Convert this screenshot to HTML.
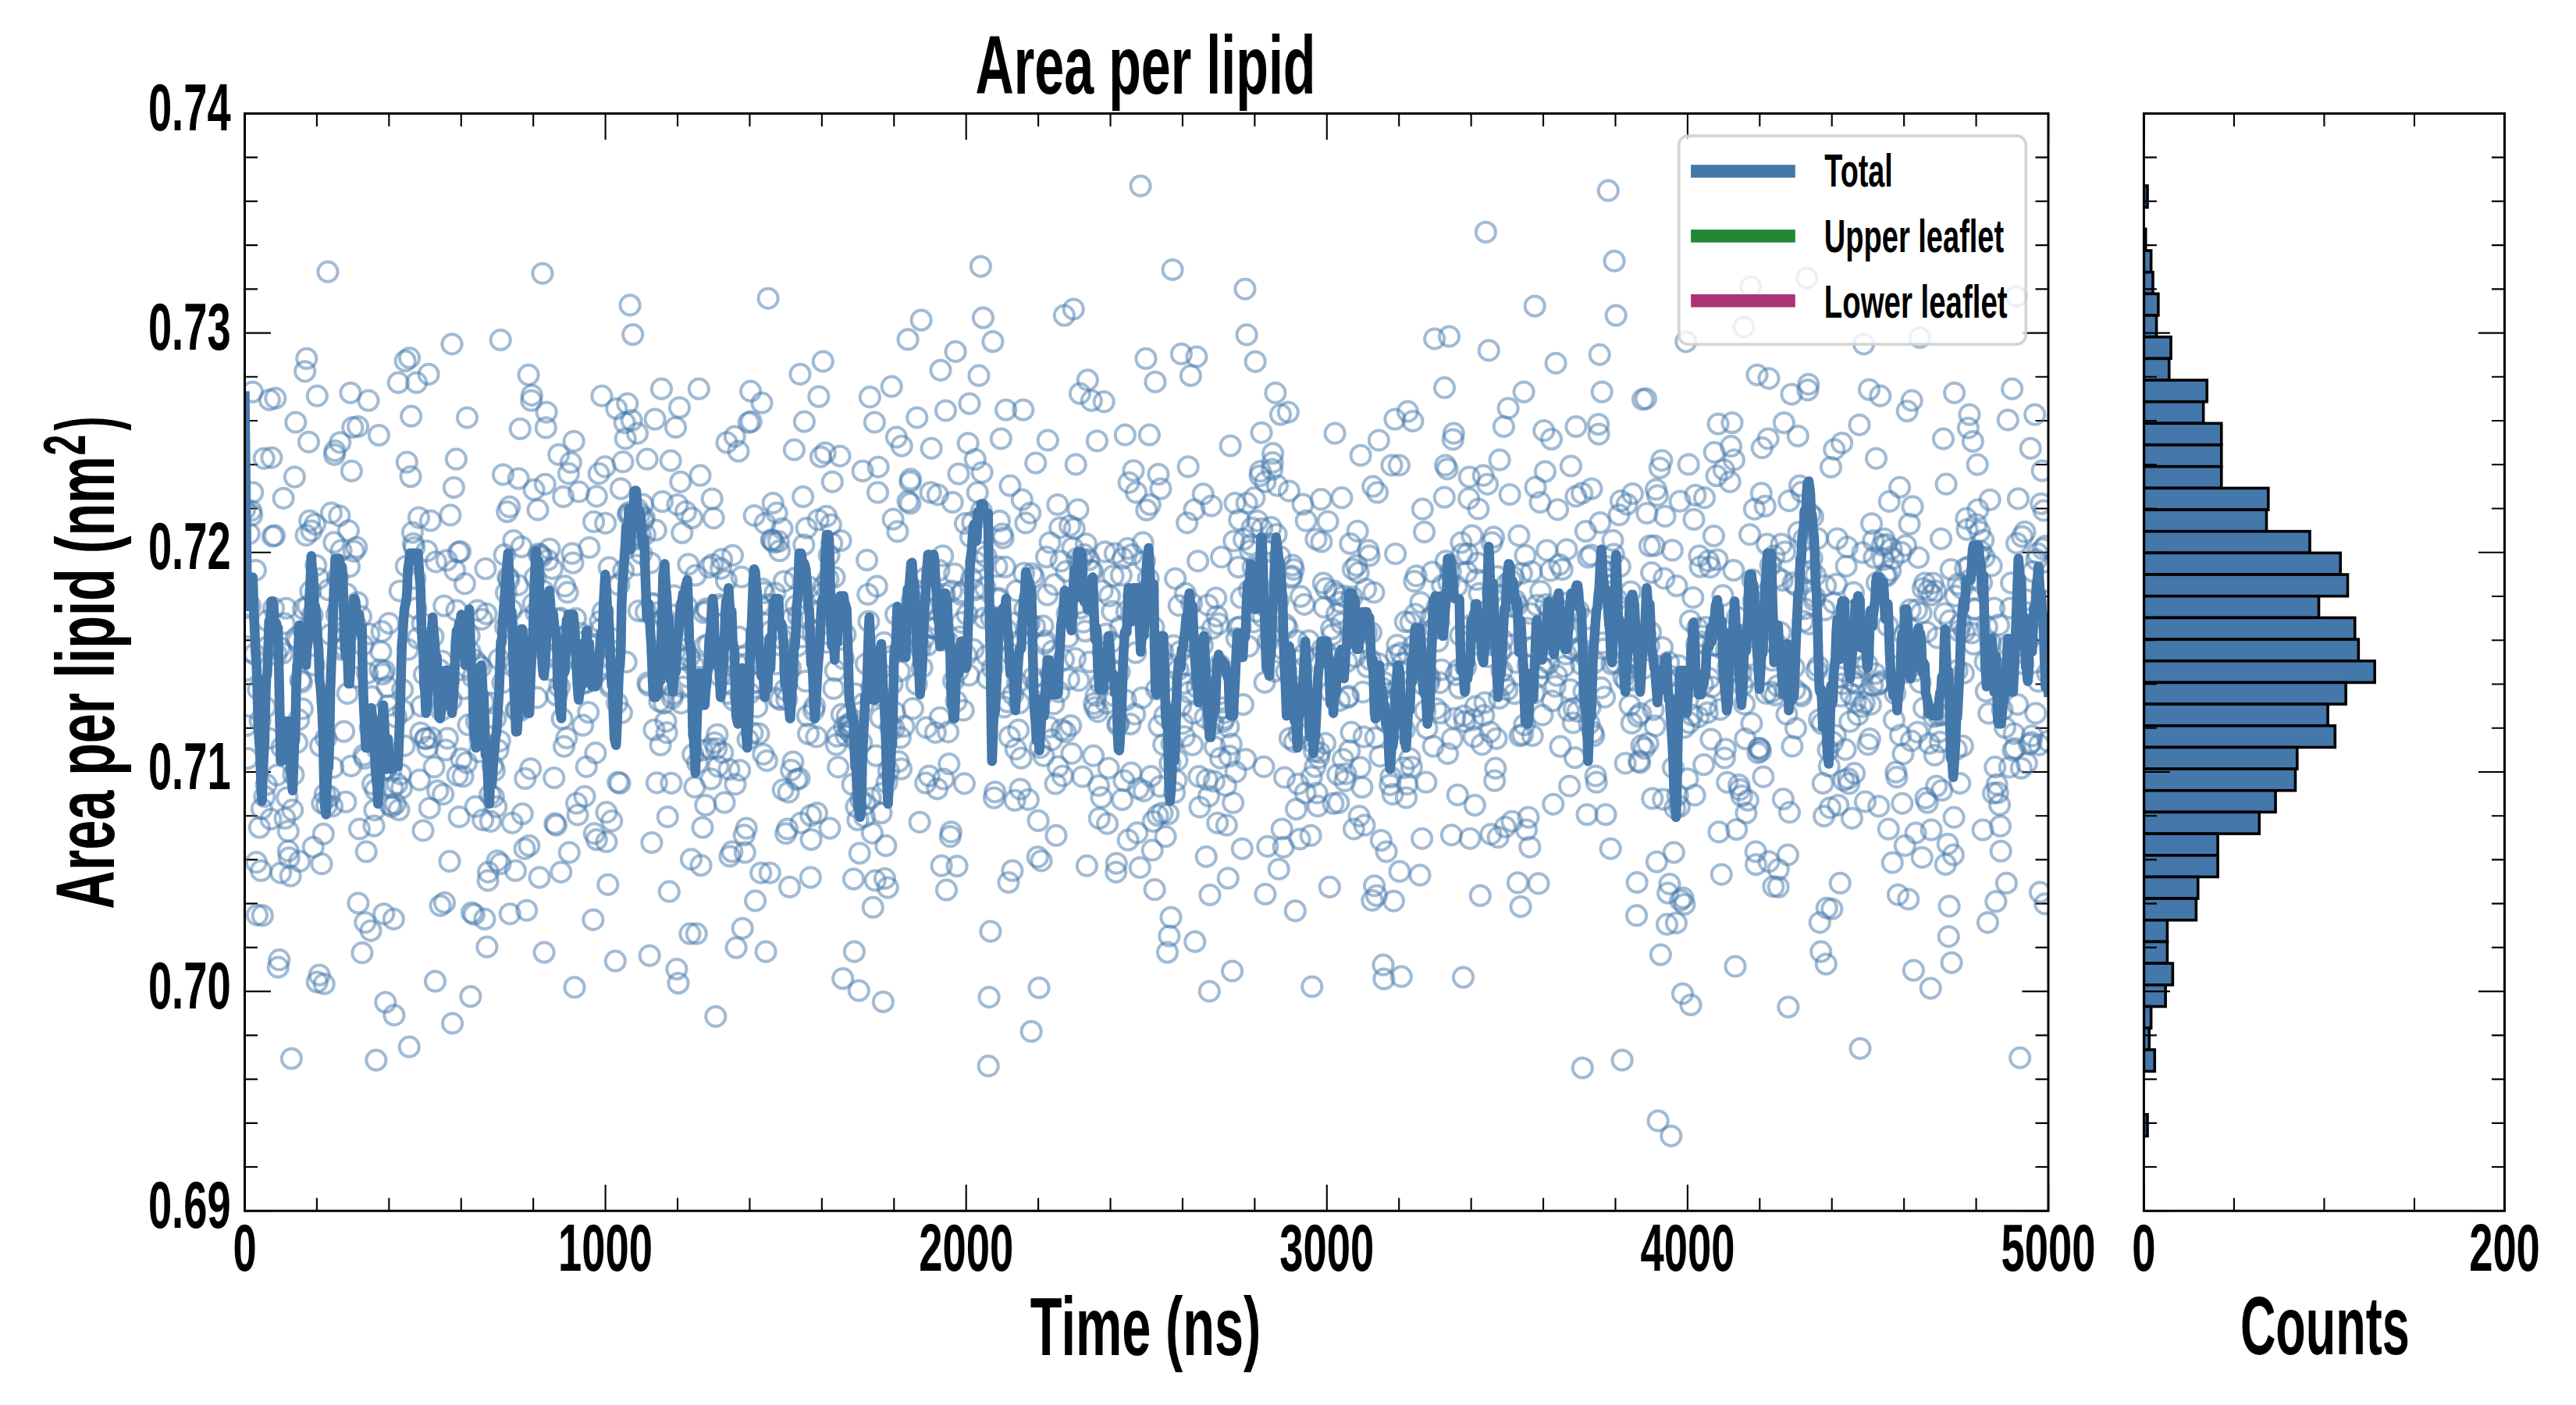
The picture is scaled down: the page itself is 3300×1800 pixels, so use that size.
<!DOCTYPE html><html><head><meta charset="utf-8"><title>Area per lipid</title><style>html,body{margin:0;padding:0;background:#fff;width:3300px;height:1800px;overflow:hidden}</style></head><body><svg width="3300" height="1800" viewBox="0 0 3300 1800" style="position:absolute;left:0;top:0"><rect width="3300" height="1800" fill="#fff"/><defs><clipPath id="ca"><rect x="313.5" y="145.4" width="2310.5" height="1405.8999999999999"/></clipPath><clipPath id="ch"><rect x="2746.4" y="145.4" width="462.0999999999999" height="1405.8999999999999"/></clipPath></defs><g clip-path="url(#ch)" fill="#4477AA" stroke="#000" stroke-width="3.6"><rect x="2746.4" y="238.00" width="4.62" height="27.67"/><rect x="2746.4" y="265.67" width="0.00" height="27.67"/><rect x="2746.4" y="293.34" width="2.31" height="27.67"/><rect x="2746.4" y="321.01" width="9.24" height="27.67"/><rect x="2746.4" y="348.68" width="11.55" height="27.67"/><rect x="2746.4" y="376.35" width="18.48" height="27.67"/><rect x="2746.4" y="404.02" width="16.17" height="27.67"/><rect x="2746.4" y="431.69" width="34.66" height="27.67"/><rect x="2746.4" y="459.36" width="32.35" height="27.67"/><rect x="2746.4" y="487.03" width="80.87" height="27.67"/><rect x="2746.4" y="514.70" width="76.25" height="27.67"/><rect x="2746.4" y="542.38" width="99.35" height="27.67"/><rect x="2746.4" y="570.05" width="99.35" height="27.67"/><rect x="2746.4" y="597.72" width="99.35" height="27.67"/><rect x="2746.4" y="625.39" width="159.42" height="27.67"/><rect x="2746.4" y="653.06" width="157.11" height="27.67"/><rect x="2746.4" y="680.73" width="212.57" height="27.67"/><rect x="2746.4" y="708.40" width="251.84" height="27.67"/><rect x="2746.4" y="736.07" width="261.09" height="27.67"/><rect x="2746.4" y="763.74" width="224.12" height="27.67"/><rect x="2746.4" y="791.41" width="270.33" height="27.67"/><rect x="2746.4" y="819.08" width="274.95" height="27.67"/><rect x="2746.4" y="846.75" width="295.74" height="27.67"/><rect x="2746.4" y="874.42" width="258.78" height="27.67"/><rect x="2746.4" y="902.09" width="235.67" height="27.67"/><rect x="2746.4" y="929.76" width="244.91" height="27.67"/><rect x="2746.4" y="957.43" width="196.39" height="27.67"/><rect x="2746.4" y="985.10" width="194.08" height="27.67"/><rect x="2746.4" y="1012.77" width="168.67" height="27.67"/><rect x="2746.4" y="1040.44" width="147.87" height="27.67"/><rect x="2746.4" y="1068.11" width="94.73" height="27.67"/><rect x="2746.4" y="1095.78" width="94.73" height="27.67"/><rect x="2746.4" y="1123.45" width="69.32" height="27.67"/><rect x="2746.4" y="1151.12" width="67.00" height="27.67"/><rect x="2746.4" y="1178.80" width="30.04" height="27.67"/><rect x="2746.4" y="1206.47" width="30.04" height="27.67"/><rect x="2746.4" y="1234.14" width="36.97" height="27.67"/><rect x="2746.4" y="1261.81" width="27.73" height="27.67"/><rect x="2746.4" y="1289.48" width="9.24" height="27.67"/><rect x="2746.4" y="1317.15" width="6.93" height="27.67"/><rect x="2746.4" y="1344.82" width="13.86" height="27.67"/><rect x="2746.4" y="1372.49" width="0.00" height="27.67"/><rect x="2746.4" y="1400.16" width="0.00" height="27.67"/><rect x="2746.4" y="1427.83" width="4.62" height="27.67"/></g><path d="M313.50,1551.3v-33.5M313.50,145.4v33.5M405.92,1551.3v-16.5M405.92,145.4v16.5M498.34,1551.3v-16.5M498.34,145.4v16.5M590.76,1551.3v-16.5M590.76,145.4v16.5M683.18,1551.3v-16.5M683.18,145.4v16.5M775.60,1551.3v-33.5M775.60,145.4v33.5M868.02,1551.3v-16.5M868.02,145.4v16.5M960.44,1551.3v-16.5M960.44,145.4v16.5M1052.86,1551.3v-16.5M1052.86,145.4v16.5M1145.28,1551.3v-16.5M1145.28,145.4v16.5M1237.70,1551.3v-33.5M1237.70,145.4v33.5M1330.12,1551.3v-16.5M1330.12,145.4v16.5M1422.54,1551.3v-16.5M1422.54,145.4v16.5M1514.96,1551.3v-16.5M1514.96,145.4v16.5M1607.38,1551.3v-16.5M1607.38,145.4v16.5M1699.80,1551.3v-33.5M1699.80,145.4v33.5M1792.22,1551.3v-16.5M1792.22,145.4v16.5M1884.64,1551.3v-16.5M1884.64,145.4v16.5M1977.06,1551.3v-16.5M1977.06,145.4v16.5M2069.48,1551.3v-16.5M2069.48,145.4v16.5M2161.90,1551.3v-33.5M2161.90,145.4v33.5M2254.32,1551.3v-16.5M2254.32,145.4v16.5M2346.74,1551.3v-16.5M2346.74,145.4v16.5M2439.16,1551.3v-16.5M2439.16,145.4v16.5M2531.58,1551.3v-16.5M2531.58,145.4v16.5M2624.00,1551.3v-33.5M2624.00,145.4v33.5M313.5,1551.30h33.5M2624.0,1551.30h-33.5M2746.4,1551.30h33.5M3208.5,1551.30h-33.5M313.5,1495.06h16.5M2624.0,1495.06h-16.5M2746.4,1495.06h16.5M3208.5,1495.06h-16.5M313.5,1438.83h16.5M2624.0,1438.83h-16.5M2746.4,1438.83h16.5M3208.5,1438.83h-16.5M313.5,1382.59h16.5M2624.0,1382.59h-16.5M2746.4,1382.59h16.5M3208.5,1382.59h-16.5M313.5,1326.36h16.5M2624.0,1326.36h-16.5M2746.4,1326.36h16.5M3208.5,1326.36h-16.5M313.5,1270.12h33.5M2624.0,1270.12h-33.5M2746.4,1270.12h33.5M3208.5,1270.12h-33.5M313.5,1213.88h16.5M2624.0,1213.88h-16.5M2746.4,1213.88h16.5M3208.5,1213.88h-16.5M313.5,1157.65h16.5M2624.0,1157.65h-16.5M2746.4,1157.65h16.5M3208.5,1157.65h-16.5M313.5,1101.41h16.5M2624.0,1101.41h-16.5M2746.4,1101.41h16.5M3208.5,1101.41h-16.5M313.5,1045.18h16.5M2624.0,1045.18h-16.5M2746.4,1045.18h16.5M3208.5,1045.18h-16.5M313.5,988.94h33.5M2624.0,988.94h-33.5M2746.4,988.94h33.5M3208.5,988.94h-33.5M313.5,932.70h16.5M2624.0,932.70h-16.5M2746.4,932.70h16.5M3208.5,932.70h-16.5M313.5,876.47h16.5M2624.0,876.47h-16.5M2746.4,876.47h16.5M3208.5,876.47h-16.5M313.5,820.23h16.5M2624.0,820.23h-16.5M2746.4,820.23h16.5M3208.5,820.23h-16.5M313.5,764.00h16.5M2624.0,764.00h-16.5M2746.4,764.00h16.5M3208.5,764.00h-16.5M313.5,707.76h33.5M2624.0,707.76h-33.5M2746.4,707.76h33.5M3208.5,707.76h-33.5M313.5,651.52h16.5M2624.0,651.52h-16.5M2746.4,651.52h16.5M3208.5,651.52h-16.5M313.5,595.29h16.5M2624.0,595.29h-16.5M2746.4,595.29h16.5M3208.5,595.29h-16.5M313.5,539.05h16.5M2624.0,539.05h-16.5M2746.4,539.05h16.5M3208.5,539.05h-16.5M313.5,482.82h16.5M2624.0,482.82h-16.5M2746.4,482.82h16.5M3208.5,482.82h-16.5M313.5,426.58h33.5M2624.0,426.58h-33.5M2746.4,426.58h33.5M3208.5,426.58h-33.5M313.5,370.34h16.5M2624.0,370.34h-16.5M2746.4,370.34h16.5M3208.5,370.34h-16.5M313.5,314.11h16.5M2624.0,314.11h-16.5M2746.4,314.11h16.5M3208.5,314.11h-16.5M313.5,257.87h16.5M2624.0,257.87h-16.5M2746.4,257.87h16.5M3208.5,257.87h-16.5M313.5,201.64h16.5M2624.0,201.64h-16.5M2746.4,201.64h16.5M3208.5,201.64h-16.5M313.5,145.40h33.5M2624.0,145.40h-33.5M2746.4,145.40h33.5M3208.5,145.40h-33.5M2746.40,1551.3v-33.5M2746.40,145.4v33.5M2861.93,1551.3v-16.5M2861.93,145.4v16.5M2977.45,1551.3v-16.5M2977.45,145.4v16.5M3092.97,1551.3v-16.5M3092.97,145.4v16.5M3208.50,1551.3v-33.5M3208.50,145.4v33.5" stroke="#000" stroke-width="2.1" fill="none"/><g clip-path="url(#ca)" fill="none" stroke="#4477AA" stroke-opacity="0.5" stroke-width="4"><circle cx="313.5" cy="652.9" r="12.6"/><circle cx="314.7" cy="858.9" r="12.6"/><circle cx="315.8" cy="929.5" r="12.6"/><circle cx="317.0" cy="971.6" r="12.6"/><circle cx="318.1" cy="803.7" r="12.6"/><circle cx="319.3" cy="683.8" r="12.6"/><circle cx="320.4" cy="775.7" r="12.6"/><circle cx="321.6" cy="654.3" r="12.6"/><circle cx="322.7" cy="660.1" r="12.6"/><circle cx="323.5" cy="502.1" r="12.6"/><circle cx="323.7" cy="630.9" r="12.6"/><circle cx="326.2" cy="838.1" r="12.6"/><circle cx="327.4" cy="730.5" r="12.6"/><circle cx="328.5" cy="1104.7" r="12.6"/><circle cx="329.4" cy="1172.3" r="12.6"/><circle cx="330.8" cy="883.2" r="12.6"/><circle cx="332.4" cy="1060.1" r="12.6"/><circle cx="333.1" cy="923.3" r="12.6"/><circle cx="334.4" cy="1115.4" r="12.6"/><circle cx="335.4" cy="1036.1" r="12.6"/><circle cx="336.3" cy="1172.9" r="12.6"/><circle cx="338.2" cy="587.3" r="12.6"/><circle cx="338.9" cy="1020.4" r="12.6"/><circle cx="340.1" cy="906.0" r="12.6"/><circle cx="341.2" cy="1005.2" r="12.6"/><circle cx="342.4" cy="795.2" r="12.6"/><circle cx="343.5" cy="828.0" r="12.6"/><circle cx="344.7" cy="946.0" r="12.6"/><circle cx="345.3" cy="512.3" r="12.6"/><circle cx="347.0" cy="1049.4" r="12.6"/><circle cx="347.9" cy="586.3" r="12.6"/><circle cx="349.3" cy="687.0" r="12.6"/><circle cx="350.5" cy="779.2" r="12.6"/><circle cx="351.6" cy="686.2" r="12.6"/><circle cx="352.8" cy="510.2" r="12.6"/><circle cx="353.9" cy="838.1" r="12.6"/><circle cx="355.1" cy="992.9" r="12.6"/><circle cx="356.3" cy="1239.2" r="12.6"/><circle cx="357.8" cy="1229.7" r="12.6"/><circle cx="358.6" cy="829.8" r="12.6"/><circle cx="359.6" cy="1118.3" r="12.6"/><circle cx="360.9" cy="957.4" r="12.6"/><circle cx="362.0" cy="837.0" r="12.6"/><circle cx="363.1" cy="638.3" r="12.6"/><circle cx="364.3" cy="798.9" r="12.6"/><circle cx="365.0" cy="1048.4" r="12.6"/><circle cx="366.6" cy="779.3" r="12.6"/><circle cx="367.8" cy="1021.9" r="12.6"/><circle cx="369.3" cy="1064.9" r="12.6"/><circle cx="369.3" cy="1090.2" r="12.6"/><circle cx="370.3" cy="1098.9" r="12.6"/><circle cx="372.2" cy="1122.2" r="12.6"/><circle cx="373.4" cy="1356.1" r="12.6"/><circle cx="374.7" cy="1037.7" r="12.6"/><circle cx="375.9" cy="992.4" r="12.6"/><circle cx="377.4" cy="611.1" r="12.6"/><circle cx="378.8" cy="541.0" r="12.6"/><circle cx="379.3" cy="817.0" r="12.6"/><circle cx="380.5" cy="951.3" r="12.6"/><circle cx="381.7" cy="821.1" r="12.6"/><circle cx="382.8" cy="922.0" r="12.6"/><circle cx="383.8" cy="1103.4" r="12.6"/><circle cx="385.1" cy="871.3" r="12.6"/><circle cx="386.3" cy="873.9" r="12.6"/><circle cx="387.4" cy="908.0" r="12.6"/><circle cx="388.6" cy="779.9" r="12.6"/><circle cx="389.7" cy="808.2" r="12.6"/><circle cx="390.7" cy="475.8" r="12.6"/><circle cx="392.1" cy="685.7" r="12.6"/><circle cx="392.8" cy="459.4" r="12.6"/><circle cx="394.4" cy="776.6" r="12.6"/><circle cx="395.5" cy="566.3" r="12.6"/><circle cx="396.7" cy="667.1" r="12.6"/><circle cx="397.8" cy="757.6" r="12.6"/><circle cx="399.0" cy="680.1" r="12.6"/><circle cx="400.1" cy="788.1" r="12.6"/><circle cx="401.3" cy="1085.3" r="12.6"/><circle cx="402.5" cy="851.9" r="12.6"/><circle cx="403.6" cy="671.6" r="12.6"/><circle cx="404.8" cy="724.3" r="12.6"/><circle cx="406.3" cy="507.2" r="12.6"/><circle cx="406.3" cy="1258.1" r="12.6"/><circle cx="408.2" cy="741.3" r="12.6"/><circle cx="409.2" cy="1249.1" r="12.6"/><circle cx="410.5" cy="955.6" r="12.6"/><circle cx="412.0" cy="1106.7" r="12.6"/><circle cx="412.9" cy="1029.0" r="12.6"/><circle cx="414.3" cy="1068.4" r="12.6"/><circle cx="415.2" cy="1260.5" r="12.6"/><circle cx="416.3" cy="1017.5" r="12.6"/><circle cx="417.5" cy="946.1" r="12.6"/><circle cx="418.6" cy="1031.6" r="12.6"/><circle cx="420.0" cy="348.2" r="12.6"/><circle cx="420.9" cy="755.7" r="12.6"/><circle cx="422.1" cy="1020.1" r="12.6"/><circle cx="423.2" cy="812.8" r="12.6"/><circle cx="424.4" cy="657.2" r="12.6"/><circle cx="425.6" cy="1033.0" r="12.6"/><circle cx="426.7" cy="983.3" r="12.6"/><circle cx="427.9" cy="694.9" r="12.6"/><circle cx="429.1" cy="577.6" r="12.6"/><circle cx="428.5" cy="582.4" r="12.6"/><circle cx="431.3" cy="787.5" r="12.6"/><circle cx="432.5" cy="740.2" r="12.6"/><circle cx="433.6" cy="780.2" r="12.6"/><circle cx="434.8" cy="660.8" r="12.6"/><circle cx="435.7" cy="566.9" r="12.6"/><circle cx="437.1" cy="705.2" r="12.6"/><circle cx="438.3" cy="832.1" r="12.6"/><circle cx="439.4" cy="819.2" r="12.6"/><circle cx="440.6" cy="937.1" r="12.6"/><circle cx="441.7" cy="829.4" r="12.6"/><circle cx="442.9" cy="1027.4" r="12.6"/><circle cx="444.0" cy="760.9" r="12.6"/><circle cx="445.2" cy="888.4" r="12.6"/><circle cx="446.4" cy="679.8" r="12.6"/><circle cx="447.5" cy="725.9" r="12.6"/><circle cx="449.0" cy="503.3" r="12.6"/><circle cx="449.8" cy="981.3" r="12.6"/><circle cx="450.4" cy="603.4" r="12.6"/><circle cx="451.8" cy="547.5" r="12.6"/><circle cx="453.3" cy="706.1" r="12.6"/><circle cx="454.4" cy="867.8" r="12.6"/><circle cx="455.6" cy="800.2" r="12.6"/><circle cx="456.8" cy="701.3" r="12.6"/><circle cx="457.9" cy="771.8" r="12.6"/><circle cx="458.9" cy="1157.0" r="12.6"/><circle cx="458.6" cy="546.5" r="12.6"/><circle cx="460.5" cy="1062.0" r="12.6"/><circle cx="462.5" cy="789.7" r="12.6"/><circle cx="463.9" cy="1220.7" r="12.6"/><circle cx="464.8" cy="826.5" r="12.6"/><circle cx="466.0" cy="967.3" r="12.6"/><circle cx="467.1" cy="971.4" r="12.6"/><circle cx="467.8" cy="1181.8" r="12.6"/><circle cx="469.2" cy="1091.1" r="12.6"/><circle cx="470.6" cy="862.5" r="12.6"/><circle cx="472.0" cy="513.2" r="12.6"/><circle cx="472.9" cy="812.2" r="12.6"/><circle cx="474.1" cy="932.5" r="12.6"/><circle cx="475.0" cy="1192.3" r="12.6"/><circle cx="476.4" cy="892.7" r="12.6"/><circle cx="477.5" cy="1004.4" r="12.6"/><circle cx="479.0" cy="1058.1" r="12.6"/><circle cx="479.9" cy="1037.8" r="12.6"/><circle cx="481.0" cy="1012.0" r="12.6"/><circle cx="481.9" cy="1358.2" r="12.6"/><circle cx="483.3" cy="959.8" r="12.6"/><circle cx="484.5" cy="954.1" r="12.6"/><circle cx="485.4" cy="557.6" r="12.6"/><circle cx="486.8" cy="857.9" r="12.6"/><circle cx="487.9" cy="834.8" r="12.6"/><circle cx="489.1" cy="808.9" r="12.6"/><circle cx="490.3" cy="863.6" r="12.6"/><circle cx="491.7" cy="1170.8" r="12.6"/><circle cx="492.6" cy="859.3" r="12.6"/><circle cx="493.8" cy="1284.1" r="12.6"/><circle cx="494.9" cy="985.0" r="12.6"/><circle cx="496.0" cy="879.8" r="12.6"/><circle cx="497.2" cy="904.0" r="12.6"/><circle cx="498.3" cy="798.5" r="12.6"/><circle cx="499.5" cy="1030.8" r="12.6"/><circle cx="500.7" cy="987.5" r="12.6"/><circle cx="501.8" cy="1033.5" r="12.6"/><circle cx="503.0" cy="1009.2" r="12.6"/><circle cx="504.3" cy="1177.4" r="12.6"/><circle cx="504.9" cy="1300.5" r="12.6"/><circle cx="506.4" cy="1029.8" r="12.6"/><circle cx="507.6" cy="918.8" r="12.6"/><circle cx="508.7" cy="1004.1" r="12.6"/><circle cx="510.3" cy="490.2" r="12.6"/><circle cx="511.0" cy="1037.6" r="12.6"/><circle cx="512.2" cy="757.1" r="12.6"/><circle cx="513.4" cy="991.8" r="12.6"/><circle cx="514.5" cy="1009.7" r="12.6"/><circle cx="515.7" cy="883.5" r="12.6"/><circle cx="516.8" cy="910.7" r="12.6"/><circle cx="518.0" cy="955.5" r="12.6"/><circle cx="519.2" cy="462.4" r="12.6"/><circle cx="520.3" cy="725.3" r="12.6"/><circle cx="521.3" cy="592.1" r="12.6"/><circle cx="522.6" cy="832.2" r="12.6"/><circle cx="524.3" cy="1341.2" r="12.6"/><circle cx="524.6" cy="458.5" r="12.6"/><circle cx="526.1" cy="610.6" r="12.6"/><circle cx="526.7" cy="533.2" r="12.6"/><circle cx="528.4" cy="682.1" r="12.6"/><circle cx="529.5" cy="696.6" r="12.6"/><circle cx="530.7" cy="701.6" r="12.6"/><circle cx="531.8" cy="741.2" r="12.6"/><circle cx="533.0" cy="779.2" r="12.6"/><circle cx="533.6" cy="490.2" r="12.6"/><circle cx="535.3" cy="817.6" r="12.6"/><circle cx="536.5" cy="663.1" r="12.6"/><circle cx="537.6" cy="999.2" r="12.6"/><circle cx="538.8" cy="938.9" r="12.6"/><circle cx="539.9" cy="904.8" r="12.6"/><circle cx="541.1" cy="798.8" r="12.6"/><circle cx="542.0" cy="1064.0" r="12.6"/><circle cx="543.4" cy="864.3" r="12.6"/><circle cx="544.5" cy="946.5" r="12.6"/><circle cx="545.7" cy="946.2" r="12.6"/><circle cx="546.9" cy="705.9" r="12.6"/><circle cx="548.0" cy="957.3" r="12.6"/><circle cx="549.1" cy="479.4" r="12.6"/><circle cx="550.3" cy="1035.3" r="12.6"/><circle cx="551.5" cy="667.0" r="12.6"/><circle cx="552.6" cy="945.0" r="12.6"/><circle cx="553.8" cy="870.9" r="12.6"/><circle cx="554.9" cy="815.4" r="12.6"/><circle cx="556.1" cy="982.7" r="12.6"/><circle cx="557.5" cy="1257.2" r="12.6"/><circle cx="558.4" cy="719.8" r="12.6"/><circle cx="559.6" cy="887.5" r="12.6"/><circle cx="560.7" cy="1013.2" r="12.6"/><circle cx="561.9" cy="872.6" r="12.6"/><circle cx="563.0" cy="857.9" r="12.6"/><circle cx="564.1" cy="1160.3" r="12.6"/><circle cx="565.3" cy="910.1" r="12.6"/><circle cx="566.5" cy="847.1" r="12.6"/><circle cx="567.7" cy="1017.5" r="12.6"/><circle cx="568.8" cy="776.1" r="12.6"/><circle cx="569.5" cy="1156.4" r="12.6"/><circle cx="571.1" cy="960.9" r="12.6"/><circle cx="572.3" cy="717.8" r="12.6"/><circle cx="573.4" cy="945.9" r="12.6"/><circle cx="574.6" cy="872.2" r="12.6"/><circle cx="576.0" cy="1103.4" r="12.6"/><circle cx="576.9" cy="659.9" r="12.6"/><circle cx="578.1" cy="896.9" r="12.6"/><circle cx="579.0" cy="440.8" r="12.6"/><circle cx="579.6" cy="1311.0" r="12.6"/><circle cx="581.4" cy="624.5" r="12.6"/><circle cx="582.7" cy="730.6" r="12.6"/><circle cx="584.4" cy="588.2" r="12.6"/><circle cx="585.0" cy="782.1" r="12.6"/><circle cx="586.1" cy="993.2" r="12.6"/><circle cx="587.3" cy="707.5" r="12.6"/><circle cx="588.2" cy="1046.5" r="12.6"/><circle cx="589.6" cy="706.6" r="12.6"/><circle cx="590.8" cy="972.2" r="12.6"/><circle cx="591.9" cy="840.2" r="12.6"/><circle cx="593.1" cy="994.7" r="12.6"/><circle cx="594.2" cy="882.4" r="12.6"/><circle cx="595.4" cy="747.7" r="12.6"/><circle cx="596.5" cy="853.8" r="12.6"/><circle cx="597.7" cy="977.1" r="12.6"/><circle cx="598.5" cy="535.0" r="12.6"/><circle cx="600.0" cy="928.7" r="12.6"/><circle cx="601.2" cy="814.3" r="12.6"/><circle cx="602.3" cy="835.1" r="12.6"/><circle cx="602.9" cy="1276.6" r="12.6"/><circle cx="604.4" cy="1169.3" r="12.6"/><circle cx="605.8" cy="867.4" r="12.6"/><circle cx="607.4" cy="1171.4" r="12.6"/><circle cx="608.1" cy="845.7" r="12.6"/><circle cx="609.2" cy="1033.4" r="12.6"/><circle cx="610.4" cy="924.4" r="12.6"/><circle cx="611.6" cy="782.0" r="12.6"/><circle cx="612.7" cy="851.1" r="12.6"/><circle cx="613.9" cy="963.2" r="12.6"/><circle cx="615.0" cy="947.9" r="12.6"/><circle cx="616.2" cy="854.5" r="12.6"/><circle cx="617.3" cy="793.3" r="12.6"/><circle cx="618.7" cy="1050.4" r="12.6"/><circle cx="619.6" cy="899.4" r="12.6"/><circle cx="620.9" cy="1177.4" r="12.6"/><circle cx="622.0" cy="728.6" r="12.6"/><circle cx="623.1" cy="786.4" r="12.6"/><circle cx="623.9" cy="1213.2" r="12.6"/><circle cx="625.5" cy="1117.3" r="12.6"/><circle cx="625.1" cy="1128.0" r="12.6"/><circle cx="627.7" cy="1018.3" r="12.6"/><circle cx="628.4" cy="1052.3" r="12.6"/><circle cx="630.0" cy="900.7" r="12.6"/><circle cx="631.2" cy="980.7" r="12.6"/><circle cx="632.3" cy="1020.8" r="12.6"/><circle cx="633.5" cy="987.2" r="12.6"/><circle cx="634.7" cy="920.5" r="12.6"/><circle cx="635.8" cy="1033.7" r="12.6"/><circle cx="637.1" cy="1102.8" r="12.6"/><circle cx="638.1" cy="960.9" r="12.6"/><circle cx="639.3" cy="844.6" r="12.6"/><circle cx="640.4" cy="949.3" r="12.6"/><circle cx="641.2" cy="435.5" r="12.6"/><circle cx="641.0" cy="1106.7" r="12.6"/><circle cx="643.9" cy="874.5" r="12.6"/><circle cx="644.5" cy="608.0" r="12.6"/><circle cx="646.2" cy="710.7" r="12.6"/><circle cx="647.4" cy="803.0" r="12.6"/><circle cx="648.5" cy="759.4" r="12.6"/><circle cx="649.7" cy="655.6" r="12.6"/><circle cx="650.8" cy="739.5" r="12.6"/><circle cx="652.0" cy="742.6" r="12.6"/><circle cx="653.2" cy="1170.8" r="12.6"/><circle cx="652.7" cy="649.4" r="12.6"/><circle cx="655.5" cy="781.5" r="12.6"/><circle cx="656.2" cy="1054.3" r="12.6"/><circle cx="657.8" cy="692.5" r="12.6"/><circle cx="658.9" cy="850.6" r="12.6"/><circle cx="660.4" cy="1115.4" r="12.6"/><circle cx="661.2" cy="909.2" r="12.6"/><circle cx="662.4" cy="910.1" r="12.6"/><circle cx="663.5" cy="749.5" r="12.6"/><circle cx="664.3" cy="613.1" r="12.6"/><circle cx="666.3" cy="549.4" r="12.6"/><circle cx="667.0" cy="910.3" r="12.6"/><circle cx="668.2" cy="700.6" r="12.6"/><circle cx="669.2" cy="1042.6" r="12.6"/><circle cx="670.5" cy="824.6" r="12.6"/><circle cx="672.1" cy="1087.3" r="12.6"/><circle cx="672.8" cy="997.4" r="12.6"/><circle cx="673.9" cy="795.2" r="12.6"/><circle cx="674.7" cy="1166.3" r="12.6"/><circle cx="676.2" cy="833.4" r="12.6"/><circle cx="677.1" cy="480.3" r="12.6"/><circle cx="677.9" cy="1083.4" r="12.6"/><circle cx="679.7" cy="984.8" r="12.6"/><circle cx="681.3" cy="506.3" r="12.6"/><circle cx="680.7" cy="513.2" r="12.6"/><circle cx="683.2" cy="773.5" r="12.6"/><circle cx="684.1" cy="627.4" r="12.6"/><circle cx="685.5" cy="739.8" r="12.6"/><circle cx="686.6" cy="784.5" r="12.6"/><circle cx="687.8" cy="893.7" r="12.6"/><circle cx="689.0" cy="653.2" r="12.6"/><circle cx="690.1" cy="709.7" r="12.6"/><circle cx="691.1" cy="1124.1" r="12.6"/><circle cx="692.4" cy="711.1" r="12.6"/><circle cx="693.6" cy="713.5" r="12.6"/><circle cx="695.0" cy="350.3" r="12.6"/><circle cx="695.9" cy="757.1" r="12.6"/><circle cx="697.1" cy="1220.1" r="12.6"/><circle cx="698.3" cy="620.3" r="12.6"/><circle cx="699.3" cy="547.9" r="12.6"/><circle cx="700.1" cy="528.1" r="12.6"/><circle cx="701.7" cy="717.5" r="12.6"/><circle cx="702.8" cy="841.7" r="12.6"/><circle cx="704.0" cy="703.3" r="12.6"/><circle cx="705.1" cy="820.2" r="12.6"/><circle cx="706.3" cy="858.7" r="12.6"/><circle cx="707.4" cy="728.5" r="12.6"/><circle cx="708.6" cy="838.5" r="12.6"/><circle cx="709.8" cy="996.5" r="12.6"/><circle cx="710.9" cy="1055.2" r="12.6"/><circle cx="712.5" cy="1057.2" r="12.6"/><circle cx="713.2" cy="890.6" r="12.6"/><circle cx="714.4" cy="793.0" r="12.6"/><circle cx="715.8" cy="582.4" r="12.6"/><circle cx="716.7" cy="879.9" r="12.6"/><circle cx="717.8" cy="791.9" r="12.6"/><circle cx="718.7" cy="1117.3" r="12.6"/><circle cx="720.1" cy="920.7" r="12.6"/><circle cx="721.6" cy="636.4" r="12.6"/><circle cx="722.5" cy="956.3" r="12.6"/><circle cx="723.6" cy="750.9" r="12.6"/><circle cx="724.8" cy="814.0" r="12.6"/><circle cx="725.9" cy="945.5" r="12.6"/><circle cx="727.1" cy="758.9" r="12.6"/><circle cx="728.4" cy="606.7" r="12.6"/><circle cx="729.3" cy="1092.1" r="12.6"/><circle cx="730.5" cy="842.9" r="12.6"/><circle cx="731.3" cy="592.5" r="12.6"/><circle cx="732.9" cy="709.1" r="12.6"/><circle cx="734.0" cy="721.1" r="12.6"/><circle cx="735.2" cy="565.3" r="12.6"/><circle cx="736.0" cy="1264.9" r="12.6"/><circle cx="737.5" cy="792.3" r="12.6"/><circle cx="738.6" cy="1029.1" r="12.6"/><circle cx="740.0" cy="1044.0" r="12.6"/><circle cx="740.9" cy="843.1" r="12.6"/><circle cx="741.6" cy="630.0" r="12.6"/><circle cx="743.3" cy="822.8" r="12.6"/><circle cx="744.4" cy="811.4" r="12.6"/><circle cx="745.6" cy="851.3" r="12.6"/><circle cx="746.7" cy="929.2" r="12.6"/><circle cx="747.9" cy="875.6" r="12.6"/><circle cx="749.0" cy="1020.3" r="12.6"/><circle cx="750.2" cy="866.0" r="12.6"/><circle cx="751.3" cy="982.3" r="12.6"/><circle cx="752.5" cy="873.6" r="12.6"/><circle cx="753.7" cy="912.6" r="12.6"/><circle cx="754.8" cy="701.5" r="12.6"/><circle cx="756.0" cy="853.2" r="12.6"/><circle cx="757.1" cy="867.1" r="12.6"/><circle cx="758.3" cy="856.6" r="12.6"/><circle cx="759.9" cy="1178.3" r="12.6"/><circle cx="760.6" cy="668.4" r="12.6"/><circle cx="761.4" cy="1067.8" r="12.6"/><circle cx="762.9" cy="964.7" r="12.6"/><circle cx="764.3" cy="635.8" r="12.6"/><circle cx="764.3" cy="1075.6" r="12.6"/><circle cx="766.4" cy="825.0" r="12.6"/><circle cx="767.2" cy="606.7" r="12.6"/><circle cx="768.7" cy="796.2" r="12.6"/><circle cx="769.8" cy="805.9" r="12.6"/><circle cx="770.9" cy="507.2" r="12.6"/><circle cx="772.1" cy="784.0" r="12.6"/><circle cx="773.3" cy="851.5" r="12.6"/><circle cx="775.0" cy="597.9" r="12.6"/><circle cx="775.6" cy="670.3" r="12.6"/><circle cx="776.9" cy="1078.5" r="12.6"/><circle cx="776.9" cy="1040.7" r="12.6"/><circle cx="778.8" cy="1133.3" r="12.6"/><circle cx="780.2" cy="727.2" r="12.6"/><circle cx="781.4" cy="880.0" r="12.6"/><circle cx="782.5" cy="877.0" r="12.6"/><circle cx="783.7" cy="1051.7" r="12.6"/><circle cx="784.8" cy="845.5" r="12.6"/><circle cx="786.0" cy="834.6" r="12.6"/><circle cx="787.2" cy="818.8" r="12.6"/><circle cx="788.3" cy="1231.2" r="12.6"/><circle cx="789.8" cy="523.6" r="12.6"/><circle cx="790.6" cy="900.7" r="12.6"/><circle cx="791.8" cy="1002.1" r="12.6"/><circle cx="792.9" cy="749.2" r="12.6"/><circle cx="794.1" cy="1003.4" r="12.6"/><circle cx="795.3" cy="626.1" r="12.6"/><circle cx="796.4" cy="913.1" r="12.6"/><circle cx="797.9" cy="591.7" r="12.6"/><circle cx="798.7" cy="731.2" r="12.6"/><circle cx="800.2" cy="541.6" r="12.6"/><circle cx="801.2" cy="562.0" r="12.6"/><circle cx="802.2" cy="848.2" r="12.6"/><circle cx="803.8" cy="517.1" r="12.6"/><circle cx="804.5" cy="659.0" r="12.6"/><circle cx="805.6" cy="656.7" r="12.6"/><circle cx="807.1" cy="390.9" r="12.6"/><circle cx="807.9" cy="659.0" r="12.6"/><circle cx="809.2" cy="538.6" r="12.6"/><circle cx="810.7" cy="428.6" r="12.6"/><circle cx="811.4" cy="689.6" r="12.6"/><circle cx="812.6" cy="691.1" r="12.6"/><circle cx="813.7" cy="675.0" r="12.6"/><circle cx="814.9" cy="724.0" r="12.6"/><circle cx="816.5" cy="555.2" r="12.6"/><circle cx="817.2" cy="652.7" r="12.6"/><circle cx="818.3" cy="782.6" r="12.6"/><circle cx="819.5" cy="658.6" r="12.6"/><circle cx="820.7" cy="685.7" r="12.6"/><circle cx="821.8" cy="709.2" r="12.6"/><circle cx="823.3" cy="646.1" r="12.6"/><circle cx="824.1" cy="666.8" r="12.6"/><circle cx="825.3" cy="663.3" r="12.6"/><circle cx="826.4" cy="684.9" r="12.6"/><circle cx="827.6" cy="783.9" r="12.6"/><circle cx="829.1" cy="588.2" r="12.6"/><circle cx="829.9" cy="874.8" r="12.6"/><circle cx="831.1" cy="878.0" r="12.6"/><circle cx="832.2" cy="1224.3" r="12.6"/><circle cx="833.4" cy="721.0" r="12.6"/><circle cx="834.9" cy="1079.5" r="12.6"/><circle cx="835.7" cy="774.0" r="12.6"/><circle cx="836.8" cy="773.0" r="12.6"/><circle cx="838.0" cy="935.1" r="12.6"/><circle cx="839.1" cy="537.1" r="12.6"/><circle cx="840.3" cy="679.2" r="12.6"/><circle cx="841.4" cy="1002.8" r="12.6"/><circle cx="842.6" cy="834.3" r="12.6"/><circle cx="843.8" cy="784.7" r="12.6"/><circle cx="844.9" cy="898.4" r="12.6"/><circle cx="846.1" cy="954.5" r="12.6"/><circle cx="847.4" cy="498.2" r="12.6"/><circle cx="848.5" cy="642.6" r="12.6"/><circle cx="849.5" cy="839.6" r="12.6"/><circle cx="850.7" cy="900.8" r="12.6"/><circle cx="851.8" cy="792.8" r="12.6"/><circle cx="853.0" cy="924.3" r="12.6"/><circle cx="854.2" cy="938.7" r="12.6"/><circle cx="855.3" cy="1046.5" r="12.6"/><circle cx="856.5" cy="818.0" r="12.6"/><circle cx="857.3" cy="1142.2" r="12.6"/><circle cx="859.2" cy="590.2" r="12.6"/><circle cx="859.9" cy="1003.3" r="12.6"/><circle cx="861.1" cy="894.1" r="12.6"/><circle cx="862.2" cy="889.3" r="12.6"/><circle cx="863.4" cy="763.2" r="12.6"/><circle cx="864.6" cy="834.2" r="12.6"/><circle cx="865.6" cy="547.5" r="12.6"/><circle cx="866.9" cy="1241.6" r="12.6"/><circle cx="867.9" cy="646.5" r="12.6"/><circle cx="869.0" cy="1259.6" r="12.6"/><circle cx="870.5" cy="522.1" r="12.6"/><circle cx="871.8" cy="617.3" r="12.6"/><circle cx="872.6" cy="900.8" r="12.6"/><circle cx="873.8" cy="682.6" r="12.6"/><circle cx="875.0" cy="880.1" r="12.6"/><circle cx="876.1" cy="844.6" r="12.6"/><circle cx="877.3" cy="832.1" r="12.6"/><circle cx="878.4" cy="655.7" r="12.6"/><circle cx="879.6" cy="776.7" r="12.6"/><circle cx="880.7" cy="867.1" r="12.6"/><circle cx="881.9" cy="722.9" r="12.6"/><circle cx="883.0" cy="841.2" r="12.6"/><circle cx="883.9" cy="1196.2" r="12.6"/><circle cx="885.4" cy="1100.8" r="12.6"/><circle cx="886.5" cy="663.6" r="12.6"/><circle cx="887.7" cy="966.5" r="12.6"/><circle cx="888.8" cy="853.1" r="12.6"/><circle cx="890.0" cy="1008.3" r="12.6"/><circle cx="891.1" cy="737.0" r="12.6"/><circle cx="892.3" cy="1196.2" r="12.6"/><circle cx="893.4" cy="977.2" r="12.6"/><circle cx="894.6" cy="867.6" r="12.6"/><circle cx="895.3" cy="498.2" r="12.6"/><circle cx="897.0" cy="609.2" r="12.6"/><circle cx="898.0" cy="1108.6" r="12.6"/><circle cx="899.2" cy="961.0" r="12.6"/><circle cx="900.0" cy="1060.1" r="12.6"/><circle cx="901.5" cy="784.6" r="12.6"/><circle cx="902.7" cy="827.7" r="12.6"/><circle cx="903.8" cy="1031.6" r="12.6"/><circle cx="905.0" cy="779.8" r="12.6"/><circle cx="906.1" cy="782.5" r="12.6"/><circle cx="907.3" cy="825.9" r="12.6"/><circle cx="908.5" cy="726.7" r="12.6"/><circle cx="909.6" cy="959.3" r="12.6"/><circle cx="910.8" cy="997.9" r="12.6"/><circle cx="912.2" cy="639.1" r="12.6"/><circle cx="913.1" cy="723.3" r="12.6"/><circle cx="914.2" cy="663.8" r="12.6"/><circle cx="915.4" cy="951.5" r="12.6"/><circle cx="916.8" cy="1302.3" r="12.6"/><circle cx="917.7" cy="959.1" r="12.6"/><circle cx="918.9" cy="941.1" r="12.6"/><circle cx="920.0" cy="981.9" r="12.6"/><circle cx="921.2" cy="774.5" r="12.6"/><circle cx="922.3" cy="866.0" r="12.6"/><circle cx="923.5" cy="728.4" r="12.6"/><circle cx="924.6" cy="716.7" r="12.6"/><circle cx="925.8" cy="964.3" r="12.6"/><circle cx="926.9" cy="776.7" r="12.6"/><circle cx="928.1" cy="1028.1" r="12.6"/><circle cx="929.2" cy="842.9" r="12.6"/><circle cx="930.4" cy="743.9" r="12.6"/><circle cx="931.0" cy="566.9" r="12.6"/><circle cx="932.7" cy="888.4" r="12.6"/><circle cx="933.9" cy="985.6" r="12.6"/><circle cx="934.9" cy="1097.0" r="12.6"/><circle cx="936.2" cy="876.5" r="12.6"/><circle cx="937.8" cy="1091.1" r="12.6"/><circle cx="938.5" cy="711.5" r="12.6"/><circle cx="939.6" cy="897.0" r="12.6"/><circle cx="941.3" cy="559.1" r="12.6"/><circle cx="942.0" cy="1004.7" r="12.6"/><circle cx="943.1" cy="1214.1" r="12.6"/><circle cx="944.3" cy="850.4" r="12.6"/><circle cx="946.0" cy="578.1" r="12.6"/><circle cx="946.6" cy="816.1" r="12.6"/><circle cx="947.7" cy="986.8" r="12.6"/><circle cx="948.9" cy="892.1" r="12.6"/><circle cx="950.0" cy="739.2" r="12.6"/><circle cx="951.2" cy="1189.3" r="12.6"/><circle cx="952.4" cy="841.6" r="12.6"/><circle cx="953.3" cy="1069.8" r="12.6"/><circle cx="954.3" cy="1092.1" r="12.6"/><circle cx="956.2" cy="1061.1" r="12.6"/><circle cx="957.0" cy="850.3" r="12.6"/><circle cx="958.1" cy="947.5" r="12.6"/><circle cx="959.2" cy="541.3" r="12.6"/><circle cx="960.4" cy="888.3" r="12.6"/><circle cx="961.6" cy="501.2" r="12.6"/><circle cx="962.2" cy="540.1" r="12.6"/><circle cx="963.9" cy="939.1" r="12.6"/><circle cx="965.1" cy="875.3" r="12.6"/><circle cx="966.2" cy="660.5" r="12.6"/><circle cx="967.6" cy="1154.0" r="12.6"/><circle cx="968.5" cy="849.3" r="12.6"/><circle cx="969.7" cy="905.8" r="12.6"/><circle cx="970.8" cy="873.7" r="12.6"/><circle cx="972.0" cy="939.9" r="12.6"/><circle cx="973.1" cy="775.2" r="12.6"/><circle cx="974.7" cy="1118.3" r="12.6"/><circle cx="976.0" cy="516.2" r="12.6"/><circle cx="976.6" cy="754.6" r="12.6"/><circle cx="977.8" cy="966.3" r="12.6"/><circle cx="978.9" cy="759.4" r="12.6"/><circle cx="980.1" cy="670.5" r="12.6"/><circle cx="981.1" cy="1219.2" r="12.6"/><circle cx="982.4" cy="974.5" r="12.6"/><circle cx="984.1" cy="382.3" r="12.6"/><circle cx="984.7" cy="774.7" r="12.6"/><circle cx="986.3" cy="1118.3" r="12.6"/><circle cx="987.0" cy="809.0" r="12.6"/><circle cx="988.2" cy="691.7" r="12.6"/><circle cx="989.3" cy="692.1" r="12.6"/><circle cx="990.2" cy="644.5" r="12.6"/><circle cx="991.6" cy="695.0" r="12.6"/><circle cx="992.8" cy="759.9" r="12.6"/><circle cx="993.9" cy="850.7" r="12.6"/><circle cx="995.1" cy="657.2" r="12.6"/><circle cx="996.3" cy="894.0" r="12.6"/><circle cx="997.4" cy="693.7" r="12.6"/><circle cx="998.6" cy="705.7" r="12.6"/><circle cx="999.7" cy="896.4" r="12.6"/><circle cx="1000.9" cy="817.8" r="12.6"/><circle cx="1002.0" cy="677.2" r="12.6"/><circle cx="1003.2" cy="1011.8" r="12.6"/><circle cx="1004.3" cy="744.8" r="12.6"/><circle cx="1005.5" cy="883.6" r="12.6"/><circle cx="1006.7" cy="1067.8" r="12.6"/><circle cx="1007.8" cy="896.2" r="12.6"/><circle cx="1008.7" cy="1062.0" r="12.6"/><circle cx="1010.1" cy="1015.0" r="12.6"/><circle cx="1011.6" cy="1136.4" r="12.6"/><circle cx="1012.4" cy="855.4" r="12.6"/><circle cx="1013.6" cy="986.7" r="12.6"/><circle cx="1014.7" cy="792.1" r="12.6"/><circle cx="1015.9" cy="976.0" r="12.6"/><circle cx="1017.4" cy="576.2" r="12.6"/><circle cx="1018.2" cy="740.9" r="12.6"/><circle cx="1019.4" cy="776.1" r="12.6"/><circle cx="1020.5" cy="998.6" r="12.6"/><circle cx="1021.7" cy="827.5" r="12.6"/><circle cx="1022.8" cy="789.2" r="12.6"/><circle cx="1024.0" cy="997.3" r="12.6"/><circle cx="1025.0" cy="479.4" r="12.6"/><circle cx="1026.1" cy="1054.3" r="12.6"/><circle cx="1027.4" cy="815.9" r="12.6"/><circle cx="1028.6" cy="636.4" r="12.6"/><circle cx="1029.8" cy="698.1" r="12.6"/><circle cx="1030.4" cy="540.1" r="12.6"/><circle cx="1032.1" cy="872.7" r="12.6"/><circle cx="1033.2" cy="676.5" r="12.6"/><circle cx="1034.4" cy="917.1" r="12.6"/><circle cx="1035.5" cy="940.1" r="12.6"/><circle cx="1036.7" cy="752.0" r="12.6"/><circle cx="1038.4" cy="1124.1" r="12.6"/><circle cx="1038.7" cy="1044.6" r="12.6"/><circle cx="1039.1" cy="1075.6" r="12.6"/><circle cx="1041.3" cy="809.6" r="12.6"/><circle cx="1042.5" cy="910.1" r="12.6"/><circle cx="1043.6" cy="904.7" r="12.6"/><circle cx="1044.8" cy="783.7" r="12.6"/><circle cx="1045.9" cy="944.0" r="12.6"/><circle cx="1046.5" cy="1041.6" r="12.6"/><circle cx="1048.2" cy="666.0" r="12.6"/><circle cx="1048.9" cy="508.1" r="12.6"/><circle cx="1050.5" cy="784.3" r="12.6"/><circle cx="1051.4" cy="585.3" r="12.6"/><circle cx="1052.9" cy="760.7" r="12.6"/><circle cx="1054.3" cy="463.0" r="12.6"/><circle cx="1055.2" cy="750.9" r="12.6"/><circle cx="1056.3" cy="811.7" r="12.6"/><circle cx="1057.2" cy="580.1" r="12.6"/><circle cx="1058.6" cy="661.4" r="12.6"/><circle cx="1059.8" cy="823.0" r="12.6"/><circle cx="1060.9" cy="741.8" r="12.6"/><circle cx="1062.1" cy="711.2" r="12.6"/><circle cx="1063.0" cy="1061.1" r="12.6"/><circle cx="1064.4" cy="672.2" r="12.6"/><circle cx="1065.6" cy="695.9" r="12.6"/><circle cx="1066.3" cy="617.3" r="12.6"/><circle cx="1067.9" cy="882.2" r="12.6"/><circle cx="1069.0" cy="739.5" r="12.6"/><circle cx="1070.2" cy="859.2" r="12.6"/><circle cx="1071.3" cy="953.9" r="12.6"/><circle cx="1072.5" cy="943.2" r="12.6"/><circle cx="1073.7" cy="982.8" r="12.6"/><circle cx="1074.8" cy="776.3" r="12.6"/><circle cx="1076.0" cy="584.3" r="12.6"/><circle cx="1077.1" cy="692.6" r="12.6"/><circle cx="1078.3" cy="915.2" r="12.6"/><circle cx="1079.7" cy="1253.6" r="12.6"/><circle cx="1080.6" cy="843.9" r="12.6"/><circle cx="1081.7" cy="931.1" r="12.6"/><circle cx="1082.9" cy="812.7" r="12.6"/><circle cx="1084.1" cy="942.8" r="12.6"/><circle cx="1085.2" cy="917.7" r="12.6"/><circle cx="1086.4" cy="928.9" r="12.6"/><circle cx="1087.5" cy="931.2" r="12.6"/><circle cx="1088.7" cy="937.9" r="12.6"/><circle cx="1089.8" cy="926.1" r="12.6"/><circle cx="1091.0" cy="933.8" r="12.6"/><circle cx="1092.1" cy="1004.9" r="12.6"/><circle cx="1093.5" cy="1126.1" r="12.6"/><circle cx="1094.4" cy="1219.2" r="12.6"/><circle cx="1095.6" cy="888.8" r="12.6"/><circle cx="1096.8" cy="1033.5" r="12.6"/><circle cx="1097.9" cy="949.6" r="12.6"/><circle cx="1098.9" cy="1050.4" r="12.6"/><circle cx="1100.3" cy="1269.1" r="12.6"/><circle cx="1101.2" cy="1093.1" r="12.6"/><circle cx="1102.5" cy="1024.5" r="12.6"/><circle cx="1103.7" cy="951.3" r="12.6"/><circle cx="1105.1" cy="603.4" r="12.6"/><circle cx="1106.0" cy="901.5" r="12.6"/><circle cx="1107.6" cy="1046.5" r="12.6"/><circle cx="1108.3" cy="1030.4" r="12.6"/><circle cx="1109.5" cy="850.6" r="12.6"/><circle cx="1110.6" cy="717.5" r="12.6"/><circle cx="1111.8" cy="761.4" r="12.6"/><circle cx="1112.9" cy="796.0" r="12.6"/><circle cx="1114.4" cy="508.7" r="12.6"/><circle cx="1115.2" cy="1022.7" r="12.6"/><circle cx="1116.4" cy="880.5" r="12.6"/><circle cx="1117.4" cy="1067.3" r="12.6"/><circle cx="1118.3" cy="1162.4" r="12.6"/><circle cx="1120.4" cy="541.0" r="12.6"/><circle cx="1121.2" cy="1128.0" r="12.6"/><circle cx="1122.2" cy="968.1" r="12.6"/><circle cx="1123.3" cy="751.1" r="12.6"/><circle cx="1124.5" cy="630.9" r="12.6"/><circle cx="1125.1" cy="598.3" r="12.6"/><circle cx="1126.8" cy="891.1" r="12.6"/><circle cx="1128.0" cy="919.5" r="12.6"/><circle cx="1129.0" cy="1041.6" r="12.6"/><circle cx="1130.3" cy="1016.3" r="12.6"/><circle cx="1131.4" cy="1283.5" r="12.6"/><circle cx="1132.6" cy="823.3" r="12.6"/><circle cx="1133.5" cy="1125.5" r="12.6"/><circle cx="1134.8" cy="1083.4" r="12.6"/><circle cx="1136.0" cy="1002.7" r="12.6"/><circle cx="1137.3" cy="1137.1" r="12.6"/><circle cx="1138.3" cy="987.4" r="12.6"/><circle cx="1139.5" cy="841.6" r="12.6"/><circle cx="1140.7" cy="931.8" r="12.6"/><circle cx="1142.2" cy="495.2" r="12.6"/><circle cx="1143.0" cy="876.3" r="12.6"/><circle cx="1144.1" cy="665.2" r="12.6"/><circle cx="1145.3" cy="933.3" r="12.6"/><circle cx="1146.4" cy="912.6" r="12.6"/><circle cx="1147.6" cy="787.1" r="12.6"/><circle cx="1148.4" cy="560.1" r="12.6"/><circle cx="1149.9" cy="680.9" r="12.6"/><circle cx="1151.1" cy="975.6" r="12.6"/><circle cx="1152.2" cy="859.7" r="12.6"/><circle cx="1153.4" cy="944.9" r="12.6"/><circle cx="1154.5" cy="985.1" r="12.6"/><circle cx="1155.2" cy="571.3" r="12.6"/><circle cx="1156.8" cy="793.6" r="12.6"/><circle cx="1158.0" cy="930.6" r="12.6"/><circle cx="1159.1" cy="809.8" r="12.6"/><circle cx="1160.3" cy="822.5" r="12.6"/><circle cx="1161.5" cy="811.0" r="12.6"/><circle cx="1163.1" cy="434.9" r="12.6"/><circle cx="1163.0" cy="642.2" r="12.6"/><circle cx="1165.9" cy="644.9" r="12.6"/><circle cx="1166.5" cy="613.9" r="12.6"/><circle cx="1165.9" cy="617.3" r="12.6"/><circle cx="1168.4" cy="769.5" r="12.6"/><circle cx="1169.5" cy="907.7" r="12.6"/><circle cx="1170.7" cy="814.3" r="12.6"/><circle cx="1171.9" cy="795.9" r="12.6"/><circle cx="1173.0" cy="795.1" r="12.6"/><circle cx="1174.2" cy="876.4" r="12.6"/><circle cx="1174.8" cy="535.0" r="12.6"/><circle cx="1176.5" cy="757.3" r="12.6"/><circle cx="1178.1" cy="1053.3" r="12.6"/><circle cx="1178.8" cy="829.9" r="12.6"/><circle cx="1180.1" cy="410.1" r="12.6"/><circle cx="1181.1" cy="855.3" r="12.6"/><circle cx="1182.2" cy="779.0" r="12.6"/><circle cx="1183.4" cy="818.0" r="12.6"/><circle cx="1184.6" cy="741.0" r="12.6"/><circle cx="1185.7" cy="1003.1" r="12.6"/><circle cx="1186.9" cy="932.2" r="12.6"/><circle cx="1188.0" cy="826.6" r="12.6"/><circle cx="1189.2" cy="755.8" r="12.6"/><circle cx="1190.3" cy="994.1" r="12.6"/><circle cx="1191.5" cy="804.1" r="12.6"/><circle cx="1193.1" cy="574.3" r="12.6"/><circle cx="1192.1" cy="630.9" r="12.6"/><circle cx="1195.0" cy="756.0" r="12.6"/><circle cx="1196.1" cy="804.6" r="12.6"/><circle cx="1197.3" cy="805.1" r="12.6"/><circle cx="1198.4" cy="938.5" r="12.6"/><circle cx="1199.6" cy="794.6" r="12.6"/><circle cx="1200.7" cy="1010.6" r="12.6"/><circle cx="1201.4" cy="633.8" r="12.6"/><circle cx="1203.0" cy="730.6" r="12.6"/><circle cx="1204.2" cy="919.3" r="12.6"/><circle cx="1205.0" cy="474.3" r="12.6"/><circle cx="1206.1" cy="1109.2" r="12.6"/><circle cx="1207.7" cy="712.0" r="12.6"/><circle cx="1208.8" cy="998.0" r="12.6"/><circle cx="1210.0" cy="761.5" r="12.6"/><circle cx="1211.5" cy="526.0" r="12.6"/><circle cx="1212.5" cy="1140.2" r="12.6"/><circle cx="1213.4" cy="820.8" r="12.6"/><circle cx="1214.6" cy="937.8" r="12.6"/><circle cx="1215.8" cy="978.6" r="12.6"/><circle cx="1217.3" cy="1071.7" r="12.6"/><circle cx="1218.3" cy="1065.9" r="12.6"/><circle cx="1219.2" cy="757.0" r="12.6"/><circle cx="1220.2" cy="643.5" r="12.6"/><circle cx="1221.5" cy="872.2" r="12.6"/><circle cx="1222.7" cy="735.0" r="12.6"/><circle cx="1224.1" cy="450.4" r="12.6"/><circle cx="1225.0" cy="898.5" r="12.6"/><circle cx="1226.0" cy="1109.6" r="12.6"/><circle cx="1227.3" cy="859.4" r="12.6"/><circle cx="1228.0" cy="607.1" r="12.6"/><circle cx="1229.6" cy="815.9" r="12.6"/><circle cx="1230.8" cy="761.5" r="12.6"/><circle cx="1231.9" cy="797.3" r="12.6"/><circle cx="1233.1" cy="758.2" r="12.6"/><circle cx="1234.2" cy="910.0" r="12.6"/><circle cx="1235.4" cy="1003.8" r="12.6"/><circle cx="1236.5" cy="670.7" r="12.6"/><circle cx="1237.7" cy="839.4" r="12.6"/><circle cx="1238.9" cy="787.3" r="12.6"/><circle cx="1240.2" cy="567.8" r="12.6"/><circle cx="1241.2" cy="865.1" r="12.6"/><circle cx="1242.0" cy="517.1" r="12.6"/><circle cx="1243.5" cy="687.7" r="12.6"/><circle cx="1244.6" cy="741.2" r="12.6"/><circle cx="1245.8" cy="669.4" r="12.6"/><circle cx="1246.9" cy="832.0" r="12.6"/><circle cx="1248.1" cy="756.0" r="12.6"/><circle cx="1249.3" cy="588.6" r="12.6"/><circle cx="1250.4" cy="720.4" r="12.6"/><circle cx="1251.6" cy="777.7" r="12.6"/><circle cx="1252.3" cy="630.9" r="12.6"/><circle cx="1254.0" cy="481.2" r="12.6"/><circle cx="1255.0" cy="707.1" r="12.6"/><circle cx="1256.4" cy="341.3" r="12.6"/><circle cx="1257.3" cy="654.7" r="12.6"/><circle cx="1258.1" cy="605.3" r="12.6"/><circle cx="1259.4" cy="407.1" r="12.6"/><circle cx="1260.8" cy="791.8" r="12.6"/><circle cx="1262.0" cy="752.7" r="12.6"/><circle cx="1263.1" cy="712.9" r="12.6"/><circle cx="1264.3" cy="840.0" r="12.6"/><circle cx="1265.4" cy="869.0" r="12.6"/><circle cx="1267.1" cy="1277.5" r="12.6"/><circle cx="1266.2" cy="1365.7" r="12.6"/><circle cx="1268.9" cy="1193.2" r="12.6"/><circle cx="1270.0" cy="791.4" r="12.6"/><circle cx="1271.2" cy="855.9" r="12.6"/><circle cx="1271.9" cy="437.6" r="12.6"/><circle cx="1273.5" cy="1022.1" r="12.6"/><circle cx="1274.7" cy="1014.6" r="12.6"/><circle cx="1275.8" cy="793.1" r="12.6"/><circle cx="1277.0" cy="725.8" r="12.6"/><circle cx="1278.1" cy="768.0" r="12.6"/><circle cx="1279.3" cy="766.3" r="12.6"/><circle cx="1280.4" cy="667.3" r="12.6"/><circle cx="1281.6" cy="819.2" r="12.6"/><circle cx="1282.3" cy="562.0" r="12.6"/><circle cx="1283.9" cy="684.1" r="12.6"/><circle cx="1285.1" cy="689.2" r="12.6"/><circle cx="1286.2" cy="905.9" r="12.6"/><circle cx="1287.4" cy="726.4" r="12.6"/><circle cx="1288.6" cy="525.1" r="12.6"/><circle cx="1289.7" cy="807.2" r="12.6"/><circle cx="1290.8" cy="899.2" r="12.6"/><circle cx="1292.0" cy="1130.5" r="12.6"/><circle cx="1293.2" cy="943.9" r="12.6"/><circle cx="1294.0" cy="622.2" r="12.6"/><circle cx="1295.5" cy="838.4" r="12.6"/><circle cx="1296.9" cy="1115.4" r="12.6"/><circle cx="1297.8" cy="889.6" r="12.6"/><circle cx="1298.9" cy="798.2" r="12.6"/><circle cx="1300.1" cy="1025.4" r="12.6"/><circle cx="1301.2" cy="959.8" r="12.6"/><circle cx="1302.4" cy="756.8" r="12.6"/><circle cx="1303.5" cy="875.1" r="12.6"/><circle cx="1304.7" cy="935.2" r="12.6"/><circle cx="1305.9" cy="900.7" r="12.6"/><circle cx="1307.0" cy="1011.0" r="12.6"/><circle cx="1308.2" cy="971.2" r="12.6"/><circle cx="1309.3" cy="640.2" r="12.6"/><circle cx="1310.8" cy="525.1" r="12.6"/><circle cx="1311.6" cy="734.4" r="12.6"/><circle cx="1312.8" cy="780.2" r="12.6"/><circle cx="1313.9" cy="670.0" r="12.6"/><circle cx="1315.1" cy="810.6" r="12.6"/><circle cx="1316.3" cy="800.3" r="12.6"/><circle cx="1317.4" cy="1024.4" r="12.6"/><circle cx="1318.6" cy="798.6" r="12.6"/><circle cx="1319.7" cy="657.3" r="12.6"/><circle cx="1321.2" cy="1321.4" r="12.6"/><circle cx="1322.0" cy="735.0" r="12.6"/><circle cx="1323.2" cy="868.4" r="12.6"/><circle cx="1324.3" cy="739.5" r="12.6"/><circle cx="1325.5" cy="802.7" r="12.6"/><circle cx="1326.8" cy="593.1" r="12.6"/><circle cx="1327.8" cy="875.2" r="12.6"/><circle cx="1329.3" cy="1097.9" r="12.6"/><circle cx="1330.1" cy="1051.4" r="12.6"/><circle cx="1331.1" cy="1265.5" r="12.6"/><circle cx="1332.4" cy="957.7" r="12.6"/><circle cx="1334.0" cy="1102.8" r="12.6"/><circle cx="1334.7" cy="890.4" r="12.6"/><circle cx="1335.9" cy="801.8" r="12.6"/><circle cx="1337.1" cy="968.5" r="12.6"/><circle cx="1338.2" cy="824.7" r="12.6"/><circle cx="1339.4" cy="821.2" r="12.6"/><circle cx="1340.5" cy="713.6" r="12.6"/><circle cx="1341.7" cy="762.1" r="12.6"/><circle cx="1342.3" cy="564.0" r="12.6"/><circle cx="1344.0" cy="931.4" r="12.6"/><circle cx="1345.1" cy="695.1" r="12.6"/><circle cx="1346.3" cy="863.1" r="12.6"/><circle cx="1347.4" cy="947.8" r="12.6"/><circle cx="1348.6" cy="834.1" r="12.6"/><circle cx="1349.8" cy="901.8" r="12.6"/><circle cx="1350.9" cy="748.9" r="12.6"/><circle cx="1352.1" cy="1004.0" r="12.6"/><circle cx="1353.0" cy="1070.4" r="12.6"/><circle cx="1354.9" cy="646.5" r="12.6"/><circle cx="1355.5" cy="982.2" r="12.6"/><circle cx="1356.7" cy="886.5" r="12.6"/><circle cx="1357.8" cy="676.0" r="12.6"/><circle cx="1359.0" cy="718.9" r="12.6"/><circle cx="1360.2" cy="934.9" r="12.6"/><circle cx="1361.3" cy="994.0" r="12.6"/><circle cx="1362.5" cy="844.8" r="12.6"/><circle cx="1363.4" cy="404.1" r="12.6"/><circle cx="1364.8" cy="937.6" r="12.6"/><circle cx="1365.9" cy="732.0" r="12.6"/><circle cx="1367.1" cy="785.9" r="12.6"/><circle cx="1368.2" cy="816.0" r="12.6"/><circle cx="1369.4" cy="870.2" r="12.6"/><circle cx="1370.6" cy="673.6" r="12.6"/><circle cx="1371.7" cy="929.5" r="12.6"/><circle cx="1372.9" cy="965.3" r="12.6"/><circle cx="1374.0" cy="701.9" r="12.6"/><circle cx="1375.3" cy="396.0" r="12.6"/><circle cx="1376.3" cy="677.2" r="12.6"/><circle cx="1377.5" cy="843.6" r="12.6"/><circle cx="1378.2" cy="595.0" r="12.6"/><circle cx="1379.8" cy="715.4" r="12.6"/><circle cx="1381.0" cy="652.8" r="12.6"/><circle cx="1382.1" cy="871.8" r="12.6"/><circle cx="1383.4" cy="504.2" r="12.6"/><circle cx="1384.4" cy="779.1" r="12.6"/><circle cx="1385.6" cy="715.8" r="12.6"/><circle cx="1386.7" cy="995.0" r="12.6"/><circle cx="1387.9" cy="797.0" r="12.6"/><circle cx="1389.0" cy="710.6" r="12.6"/><circle cx="1390.2" cy="808.6" r="12.6"/><circle cx="1391.3" cy="696.8" r="12.6"/><circle cx="1392.4" cy="1109.2" r="12.6"/><circle cx="1393.3" cy="486.9" r="12.6"/><circle cx="1394.8" cy="717.2" r="12.6"/><circle cx="1396.0" cy="848.0" r="12.6"/><circle cx="1397.1" cy="730.5" r="12.6"/><circle cx="1398.3" cy="513.2" r="12.6"/><circle cx="1399.4" cy="731.4" r="12.6"/><circle cx="1400.6" cy="968.2" r="12.6"/><circle cx="1401.7" cy="901.4" r="12.6"/><circle cx="1402.9" cy="906.6" r="12.6"/><circle cx="1404.1" cy="891.2" r="12.6"/><circle cx="1405.4" cy="564.9" r="12.6"/><circle cx="1406.4" cy="911.8" r="12.6"/><circle cx="1407.5" cy="1006.5" r="12.6"/><circle cx="1408.3" cy="1048.4" r="12.6"/><circle cx="1409.8" cy="875.9" r="12.6"/><circle cx="1411.0" cy="1021.7" r="12.6"/><circle cx="1412.1" cy="756.8" r="12.6"/><circle cx="1413.3" cy="835.4" r="12.6"/><circle cx="1414.2" cy="514.7" r="12.6"/><circle cx="1415.6" cy="707.0" r="12.6"/><circle cx="1416.8" cy="812.3" r="12.6"/><circle cx="1417.9" cy="901.0" r="12.6"/><circle cx="1418.6" cy="1055.2" r="12.6"/><circle cx="1420.2" cy="984.1" r="12.6"/><circle cx="1421.4" cy="763.4" r="12.6"/><circle cx="1422.5" cy="857.1" r="12.6"/><circle cx="1423.7" cy="822.7" r="12.6"/><circle cx="1424.9" cy="783.3" r="12.6"/><circle cx="1426.0" cy="737.9" r="12.6"/><circle cx="1427.2" cy="891.5" r="12.6"/><circle cx="1428.3" cy="709.0" r="12.6"/><circle cx="1429.7" cy="1117.3" r="12.6"/><circle cx="1430.2" cy="1106.1" r="12.6"/><circle cx="1431.8" cy="928.7" r="12.6"/><circle cx="1432.9" cy="926.4" r="12.6"/><circle cx="1434.1" cy="860.8" r="12.6"/><circle cx="1435.2" cy="803.1" r="12.6"/><circle cx="1436.4" cy="737.0" r="12.6"/><circle cx="1437.6" cy="1024.4" r="12.6"/><circle cx="1438.7" cy="715.3" r="12.6"/><circle cx="1439.9" cy="1000.1" r="12.6"/><circle cx="1441.3" cy="557.2" r="12.6"/><circle cx="1442.2" cy="897.0" r="12.6"/><circle cx="1443.3" cy="783.2" r="12.6"/><circle cx="1444.5" cy="702.7" r="12.6"/><circle cx="1446.2" cy="618.3" r="12.6"/><circle cx="1445.2" cy="1076.2" r="12.6"/><circle cx="1448.0" cy="927.6" r="12.6"/><circle cx="1449.1" cy="990.0" r="12.6"/><circle cx="1450.3" cy="710.5" r="12.6"/><circle cx="1452.0" cy="602.8" r="12.6"/><circle cx="1452.6" cy="763.5" r="12.6"/><circle cx="1453.7" cy="914.9" r="12.6"/><circle cx="1454.9" cy="836.2" r="12.6"/><circle cx="1455.5" cy="630.9" r="12.6"/><circle cx="1456.8" cy="1066.9" r="12.6"/><circle cx="1458.4" cy="1010.1" r="12.6"/><circle cx="1459.5" cy="761.4" r="12.6"/><circle cx="1461.1" cy="238.2" r="12.6"/><circle cx="1460.3" cy="1111.5" r="12.6"/><circle cx="1463.0" cy="893.9" r="12.6"/><circle cx="1464.1" cy="695.2" r="12.6"/><circle cx="1465.3" cy="1013.3" r="12.6"/><circle cx="1466.4" cy="718.8" r="12.6"/><circle cx="1468.0" cy="459.4" r="12.6"/><circle cx="1468.8" cy="653.4" r="12.6"/><circle cx="1469.9" cy="756.0" r="12.6"/><circle cx="1471.1" cy="741.2" r="12.6"/><circle cx="1472.4" cy="557.2" r="12.6"/><circle cx="1473.3" cy="646.5" r="12.6"/><circle cx="1474.5" cy="994.6" r="12.6"/><circle cx="1476.2" cy="1089.2" r="12.6"/><circle cx="1477.2" cy="1052.3" r="12.6"/><circle cx="1478.0" cy="803.5" r="12.6"/><circle cx="1479.2" cy="1139.7" r="12.6"/><circle cx="1480.0" cy="489.3" r="12.6"/><circle cx="1481.5" cy="883.0" r="12.6"/><circle cx="1483.0" cy="1044.6" r="12.6"/><circle cx="1484.0" cy="607.6" r="12.6"/><circle cx="1484.9" cy="930.1" r="12.6"/><circle cx="1486.1" cy="1007.5" r="12.6"/><circle cx="1486.9" cy="626.1" r="12.6"/><circle cx="1488.9" cy="1041.6" r="12.6"/><circle cx="1489.5" cy="834.9" r="12.6"/><circle cx="1490.7" cy="953.9" r="12.6"/><circle cx="1491.9" cy="917.0" r="12.6"/><circle cx="1493.1" cy="1071.7" r="12.6"/><circle cx="1494.2" cy="872.3" r="12.6"/><circle cx="1495.5" cy="1220.1" r="12.6"/><circle cx="1496.6" cy="1042.6" r="12.6"/><circle cx="1497.9" cy="1199.2" r="12.6"/><circle cx="1498.8" cy="977.6" r="12.6"/><circle cx="1500.0" cy="1175.3" r="12.6"/><circle cx="1501.1" cy="952.7" r="12.6"/><circle cx="1502.1" cy="345.5" r="12.6"/><circle cx="1503.4" cy="827.2" r="12.6"/><circle cx="1504.6" cy="1015.4" r="12.6"/><circle cx="1505.7" cy="741.3" r="12.6"/><circle cx="1506.9" cy="999.8" r="12.6"/><circle cx="1508.0" cy="974.0" r="12.6"/><circle cx="1509.2" cy="858.1" r="12.6"/><circle cx="1510.3" cy="775.7" r="12.6"/><circle cx="1511.5" cy="834.9" r="12.6"/><circle cx="1512.6" cy="904.5" r="12.6"/><circle cx="1513.4" cy="453.4" r="12.6"/><circle cx="1515.0" cy="926.8" r="12.6"/><circle cx="1516.1" cy="875.4" r="12.6"/><circle cx="1517.3" cy="943.5" r="12.6"/><circle cx="1518.4" cy="760.2" r="12.6"/><circle cx="1519.6" cy="852.1" r="12.6"/><circle cx="1520.7" cy="669.8" r="12.6"/><circle cx="1522.2" cy="597.9" r="12.6"/><circle cx="1523.0" cy="886.9" r="12.6"/><circle cx="1524.2" cy="821.9" r="12.6"/><circle cx="1525.4" cy="481.2" r="12.6"/><circle cx="1526.5" cy="773.1" r="12.6"/><circle cx="1527.7" cy="954.3" r="12.6"/><circle cx="1528.8" cy="913.8" r="12.6"/><circle cx="1530.0" cy="652.9" r="12.6"/><circle cx="1530.8" cy="1206.4" r="12.6"/><circle cx="1532.9" cy="457.0" r="12.6"/><circle cx="1533.4" cy="880.2" r="12.6"/><circle cx="1534.6" cy="718.8" r="12.6"/><circle cx="1535.8" cy="994.7" r="12.6"/><circle cx="1536.9" cy="1034.0" r="12.6"/><circle cx="1538.1" cy="816.7" r="12.6"/><circle cx="1539.2" cy="874.6" r="12.6"/><circle cx="1540.4" cy="826.6" r="12.6"/><circle cx="1541.3" cy="632.9" r="12.6"/><circle cx="1542.7" cy="878.7" r="12.6"/><circle cx="1543.8" cy="919.3" r="12.6"/><circle cx="1545.2" cy="1097.5" r="12.6"/><circle cx="1546.2" cy="998.8" r="12.6"/><circle cx="1547.3" cy="775.0" r="12.6"/><circle cx="1548.5" cy="1020.0" r="12.6"/><circle cx="1549.3" cy="1270.0" r="12.6"/><circle cx="1550.0" cy="1146.5" r="12.6"/><circle cx="1551.9" cy="648.0" r="12.6"/><circle cx="1553.1" cy="805.1" r="12.6"/><circle cx="1554.2" cy="927.7" r="12.6"/><circle cx="1555.4" cy="1001.0" r="12.6"/><circle cx="1556.5" cy="957.0" r="12.6"/><circle cx="1557.7" cy="766.1" r="12.6"/><circle cx="1558.9" cy="789.5" r="12.6"/><circle cx="1559.7" cy="1054.3" r="12.6"/><circle cx="1561.2" cy="799.2" r="12.6"/><circle cx="1562.3" cy="851.6" r="12.6"/><circle cx="1563.5" cy="971.3" r="12.6"/><circle cx="1564.6" cy="713.7" r="12.6"/><circle cx="1565.8" cy="906.9" r="12.6"/><circle cx="1566.9" cy="924.4" r="12.6"/><circle cx="1568.1" cy="920.6" r="12.6"/><circle cx="1569.3" cy="912.9" r="12.6"/><circle cx="1570.4" cy="1006.5" r="12.6"/><circle cx="1571.4" cy="1057.2" r="12.6"/><circle cx="1573.3" cy="1125.1" r="12.6"/><circle cx="1573.9" cy="931.3" r="12.6"/><circle cx="1575.0" cy="968.7" r="12.6"/><circle cx="1576.2" cy="571.1" r="12.6"/><circle cx="1577.3" cy="953.2" r="12.6"/><circle cx="1578.6" cy="1244.0" r="12.6"/><circle cx="1579.7" cy="1028.5" r="12.6"/><circle cx="1580.8" cy="693.0" r="12.6"/><circle cx="1582.0" cy="644.5" r="12.6"/><circle cx="1583.1" cy="988.9" r="12.6"/><circle cx="1584.3" cy="817.8" r="12.6"/><circle cx="1585.4" cy="804.1" r="12.6"/><circle cx="1586.6" cy="726.6" r="12.6"/><circle cx="1587.7" cy="666.0" r="12.6"/><circle cx="1588.9" cy="803.0" r="12.6"/><circle cx="1590.1" cy="765.8" r="12.6"/><circle cx="1591.3" cy="1087.3" r="12.6"/><circle cx="1592.4" cy="902.6" r="12.6"/><circle cx="1593.5" cy="691.0" r="12.6"/><circle cx="1595.0" cy="370.3" r="12.6"/><circle cx="1595.8" cy="972.9" r="12.6"/><circle cx="1597.1" cy="428.9" r="12.6"/><circle cx="1597.2" cy="644.5" r="12.6"/><circle cx="1599.3" cy="827.9" r="12.6"/><circle cx="1600.4" cy="756.0" r="12.6"/><circle cx="1601.6" cy="705.5" r="12.6"/><circle cx="1602.8" cy="698.1" r="12.6"/><circle cx="1603.9" cy="676.4" r="12.6"/><circle cx="1605.1" cy="726.6" r="12.6"/><circle cx="1606.2" cy="796.8" r="12.6"/><circle cx="1606.9" cy="637.7" r="12.6"/><circle cx="1608.2" cy="463.3" r="12.6"/><circle cx="1609.7" cy="783.5" r="12.6"/><circle cx="1610.8" cy="667.3" r="12.6"/><circle cx="1612.0" cy="749.8" r="12.6"/><circle cx="1614.1" cy="609.6" r="12.6"/><circle cx="1614.6" cy="603.8" r="12.6"/><circle cx="1616.0" cy="554.3" r="12.6"/><circle cx="1616.6" cy="677.4" r="12.6"/><circle cx="1617.8" cy="790.3" r="12.6"/><circle cx="1618.9" cy="982.3" r="12.6"/><circle cx="1620.1" cy="874.2" r="12.6"/><circle cx="1620.9" cy="617.3" r="12.6"/><circle cx="1620.9" cy="1145.5" r="12.6"/><circle cx="1623.8" cy="1084.3" r="12.6"/><circle cx="1624.7" cy="821.3" r="12.6"/><circle cx="1625.9" cy="696.5" r="12.6"/><circle cx="1627.0" cy="706.4" r="12.6"/><circle cx="1628.2" cy="675.6" r="12.6"/><circle cx="1629.6" cy="601.4" r="12.6"/><circle cx="1630.6" cy="580.9" r="12.6"/><circle cx="1630.2" cy="592.5" r="12.6"/><circle cx="1632.8" cy="859.9" r="12.6"/><circle cx="1633.9" cy="503.3" r="12.6"/><circle cx="1635.1" cy="684.5" r="12.6"/><circle cx="1636.4" cy="622.2" r="12.6"/><circle cx="1637.4" cy="769.2" r="12.6"/><circle cx="1638.3" cy="1113.5" r="12.6"/><circle cx="1639.7" cy="713.0" r="12.6"/><circle cx="1640.5" cy="531.1" r="12.6"/><circle cx="1642.2" cy="1062.0" r="12.6"/><circle cx="1643.2" cy="831.5" r="12.6"/><circle cx="1644.1" cy="1085.3" r="12.6"/><circle cx="1645.5" cy="996.0" r="12.6"/><circle cx="1646.7" cy="800.1" r="12.6"/><circle cx="1647.8" cy="860.2" r="12.6"/><circle cx="1649.0" cy="804.5" r="12.6"/><circle cx="1650.3" cy="528.1" r="12.6"/><circle cx="1651.5" cy="629.0" r="12.6"/><circle cx="1652.4" cy="945.9" r="12.6"/><circle cx="1653.6" cy="739.9" r="12.6"/><circle cx="1654.7" cy="737.9" r="12.6"/><circle cx="1655.9" cy="724.1" r="12.6"/><circle cx="1657.1" cy="729.5" r="12.6"/><circle cx="1658.2" cy="950.3" r="12.6"/><circle cx="1659.3" cy="1166.9" r="12.6"/><circle cx="1660.5" cy="1036.6" r="12.6"/><circle cx="1661.7" cy="821.2" r="12.6"/><circle cx="1662.8" cy="1004.3" r="12.6"/><circle cx="1664.0" cy="940.4" r="12.6"/><circle cx="1665.1" cy="1075.0" r="12.6"/><circle cx="1666.3" cy="764.2" r="12.6"/><circle cx="1667.5" cy="857.1" r="12.6"/><circle cx="1669.0" cy="646.1" r="12.6"/><circle cx="1669.8" cy="839.1" r="12.6"/><circle cx="1670.9" cy="774.3" r="12.6"/><circle cx="1672.1" cy="1015.9" r="12.6"/><circle cx="1673.2" cy="667.2" r="12.6"/><circle cx="1674.4" cy="901.8" r="12.6"/><circle cx="1675.5" cy="905.6" r="12.6"/><circle cx="1676.7" cy="820.9" r="12.6"/><circle cx="1677.9" cy="907.3" r="12.6"/><circle cx="1679.1" cy="1070.4" r="12.6"/><circle cx="1680.2" cy="995.2" r="12.6"/><circle cx="1680.8" cy="1264.0" r="12.6"/><circle cx="1682.5" cy="951.5" r="12.6"/><circle cx="1683.6" cy="962.6" r="12.6"/><circle cx="1684.8" cy="982.1" r="12.6"/><circle cx="1685.9" cy="690.8" r="12.6"/><circle cx="1687.1" cy="1016.0" r="12.6"/><circle cx="1688.2" cy="1032.7" r="12.6"/><circle cx="1689.4" cy="970.7" r="12.6"/><circle cx="1690.6" cy="964.0" r="12.6"/><circle cx="1692.3" cy="639.7" r="12.6"/><circle cx="1692.9" cy="694.0" r="12.6"/><circle cx="1694.0" cy="831.6" r="12.6"/><circle cx="1695.2" cy="747.0" r="12.6"/><circle cx="1696.3" cy="778.0" r="12.6"/><circle cx="1697.5" cy="952.3" r="12.6"/><circle cx="1698.6" cy="753.8" r="12.6"/><circle cx="1699.8" cy="836.5" r="12.6"/><circle cx="1701.0" cy="668.0" r="12.6"/><circle cx="1702.1" cy="841.7" r="12.6"/><circle cx="1703.3" cy="1136.4" r="12.6"/><circle cx="1704.4" cy="886.3" r="12.6"/><circle cx="1705.6" cy="805.6" r="12.6"/><circle cx="1706.7" cy="813.3" r="12.6"/><circle cx="1707.9" cy="1029.4" r="12.6"/><circle cx="1709.0" cy="757.1" r="12.6"/><circle cx="1710.1" cy="555.2" r="12.6"/><circle cx="1711.4" cy="761.4" r="12.6"/><circle cx="1712.5" cy="786.6" r="12.6"/><circle cx="1713.7" cy="992.3" r="12.6"/><circle cx="1714.8" cy="1028.4" r="12.6"/><circle cx="1716.0" cy="897.5" r="12.6"/><circle cx="1717.1" cy="771.5" r="12.6"/><circle cx="1718.3" cy="798.5" r="12.6"/><circle cx="1718.9" cy="637.7" r="12.6"/><circle cx="1720.6" cy="972.8" r="12.6"/><circle cx="1721.7" cy="763.6" r="12.6"/><circle cx="1722.9" cy="1000.5" r="12.6"/><circle cx="1724.1" cy="991.3" r="12.6"/><circle cx="1725.2" cy="847.7" r="12.6"/><circle cx="1726.4" cy="893.6" r="12.6"/><circle cx="1727.5" cy="891.9" r="12.6"/><circle cx="1728.7" cy="961.9" r="12.6"/><circle cx="1729.8" cy="696.5" r="12.6"/><circle cx="1731.0" cy="938.2" r="12.6"/><circle cx="1732.1" cy="764.8" r="12.6"/><circle cx="1733.3" cy="729.2" r="12.6"/><circle cx="1734.4" cy="1062.0" r="12.6"/><circle cx="1735.6" cy="841.3" r="12.6"/><circle cx="1736.8" cy="809.1" r="12.6"/><circle cx="1737.9" cy="724.4" r="12.6"/><circle cx="1739.1" cy="680.4" r="12.6"/><circle cx="1740.2" cy="733.7" r="12.6"/><circle cx="1741.2" cy="1045.5" r="12.6"/><circle cx="1742.5" cy="983.1" r="12.6"/><circle cx="1743.1" cy="583.4" r="12.6"/><circle cx="1744.9" cy="1008.6" r="12.6"/><circle cx="1746.0" cy="886.7" r="12.6"/><circle cx="1747.2" cy="944.0" r="12.6"/><circle cx="1748.0" cy="1057.2" r="12.6"/><circle cx="1749.5" cy="754.7" r="12.6"/><circle cx="1750.6" cy="810.4" r="12.6"/><circle cx="1751.8" cy="854.4" r="12.6"/><circle cx="1752.9" cy="705.0" r="12.6"/><circle cx="1754.1" cy="712.0" r="12.6"/><circle cx="1755.3" cy="845.1" r="12.6"/><circle cx="1756.4" cy="810.3" r="12.6"/><circle cx="1757.9" cy="1153.5" r="12.6"/><circle cx="1758.7" cy="623.2" r="12.6"/><circle cx="1759.9" cy="759.0" r="12.6"/><circle cx="1760.6" cy="1134.8" r="12.6"/><circle cx="1762.2" cy="945.0" r="12.6"/><circle cx="1763.5" cy="1147.4" r="12.6"/><circle cx="1764.5" cy="630.9" r="12.6"/><circle cx="1765.6" cy="850.0" r="12.6"/><circle cx="1766.4" cy="564.0" r="12.6"/><circle cx="1768.0" cy="968.8" r="12.6"/><circle cx="1769.3" cy="1076.6" r="12.6"/><circle cx="1770.3" cy="881.4" r="12.6"/><circle cx="1772.0" cy="1236.2" r="12.6"/><circle cx="1772.9" cy="1254.2" r="12.6"/><circle cx="1773.7" cy="874.8" r="12.6"/><circle cx="1774.9" cy="924.3" r="12.6"/><circle cx="1776.1" cy="1091.1" r="12.6"/><circle cx="1777.2" cy="905.6" r="12.6"/><circle cx="1778.4" cy="863.7" r="12.6"/><circle cx="1779.5" cy="899.1" r="12.6"/><circle cx="1780.7" cy="1005.5" r="12.6"/><circle cx="1781.8" cy="995.6" r="12.6"/><circle cx="1782.9" cy="596.0" r="12.6"/><circle cx="1784.1" cy="1017.5" r="12.6"/><circle cx="1785.4" cy="1154.3" r="12.6"/><circle cx="1786.9" cy="537.1" r="12.6"/><circle cx="1787.6" cy="709.5" r="12.6"/><circle cx="1788.8" cy="839.3" r="12.6"/><circle cx="1789.9" cy="826.5" r="12.6"/><circle cx="1791.1" cy="881.2" r="12.6"/><circle cx="1792.4" cy="596.0" r="12.6"/><circle cx="1793.0" cy="1116.4" r="12.6"/><circle cx="1794.5" cy="836.7" r="12.6"/><circle cx="1795.3" cy="1251.2" r="12.6"/><circle cx="1796.8" cy="849.7" r="12.6"/><circle cx="1798.0" cy="983.7" r="12.6"/><circle cx="1799.2" cy="934.6" r="12.6"/><circle cx="1800.3" cy="796.5" r="12.6"/><circle cx="1801.5" cy="1021.9" r="12.6"/><circle cx="1802.6" cy="1004.7" r="12.6"/><circle cx="1803.4" cy="527.2" r="12.6"/><circle cx="1804.9" cy="838.8" r="12.6"/><circle cx="1806.1" cy="971.9" r="12.6"/><circle cx="1807.2" cy="797.0" r="12.6"/><circle cx="1808.4" cy="982.8" r="12.6"/><circle cx="1809.9" cy="539.5" r="12.6"/><circle cx="1810.7" cy="827.5" r="12.6"/><circle cx="1811.9" cy="744.7" r="12.6"/><circle cx="1813.0" cy="786.8" r="12.6"/><circle cx="1814.2" cy="737.8" r="12.6"/><circle cx="1815.3" cy="857.1" r="12.6"/><circle cx="1816.5" cy="855.9" r="12.6"/><circle cx="1817.6" cy="839.5" r="12.6"/><circle cx="1819.0" cy="1121.2" r="12.6"/><circle cx="1819.9" cy="771.8" r="12.6"/><circle cx="1821.6" cy="1074.3" r="12.6"/><circle cx="1822.3" cy="652.2" r="12.6"/><circle cx="1823.4" cy="877.2" r="12.6"/><circle cx="1824.6" cy="681.6" r="12.6"/><circle cx="1825.7" cy="910.9" r="12.6"/><circle cx="1826.9" cy="1002.2" r="12.6"/><circle cx="1828.0" cy="933.1" r="12.6"/><circle cx="1829.2" cy="865.3" r="12.6"/><circle cx="1830.3" cy="875.4" r="12.6"/><circle cx="1831.5" cy="869.2" r="12.6"/><circle cx="1832.7" cy="808.0" r="12.6"/><circle cx="1833.8" cy="790.0" r="12.6"/><circle cx="1835.0" cy="732.8" r="12.6"/><circle cx="1836.1" cy="956.1" r="12.6"/><circle cx="1837.7" cy="434.0" r="12.6"/><circle cx="1838.4" cy="804.5" r="12.6"/><circle cx="1839.6" cy="907.8" r="12.6"/><circle cx="1840.7" cy="778.2" r="12.6"/><circle cx="1841.9" cy="821.4" r="12.6"/><circle cx="1843.1" cy="796.5" r="12.6"/><circle cx="1844.2" cy="874.7" r="12.6"/><circle cx="1845.4" cy="913.6" r="12.6"/><circle cx="1846.5" cy="858.0" r="12.6"/><circle cx="1847.7" cy="750.0" r="12.6"/><circle cx="1850.3" cy="637.1" r="12.6"/><circle cx="1850.5" cy="496.7" r="12.6"/><circle cx="1851.6" cy="596.0" r="12.6"/><circle cx="1852.3" cy="718.9" r="12.6"/><circle cx="1854.0" cy="600.8" r="12.6"/><circle cx="1854.6" cy="965.5" r="12.6"/><circle cx="1855.8" cy="746.3" r="12.6"/><circle cx="1856.5" cy="431.0" r="12.6"/><circle cx="1858.1" cy="732.7" r="12.6"/><circle cx="1859.4" cy="1069.8" r="12.6"/><circle cx="1860.4" cy="946.4" r="12.6"/><circle cx="1861.3" cy="563.0" r="12.6"/><circle cx="1862.3" cy="555.2" r="12.6"/><circle cx="1863.8" cy="920.3" r="12.6"/><circle cx="1865.0" cy="864.4" r="12.6"/><circle cx="1866.2" cy="751.2" r="12.6"/><circle cx="1867.3" cy="1018.4" r="12.6"/><circle cx="1868.5" cy="858.0" r="12.6"/><circle cx="1869.6" cy="881.6" r="12.6"/><circle cx="1870.8" cy="814.0" r="12.6"/><circle cx="1871.9" cy="695.1" r="12.6"/><circle cx="1873.1" cy="709.8" r="12.6"/><circle cx="1874.5" cy="1252.1" r="12.6"/><circle cx="1875.4" cy="917.1" r="12.6"/><circle cx="1876.6" cy="924.4" r="12.6"/><circle cx="1877.7" cy="854.6" r="12.6"/><circle cx="1878.9" cy="732.9" r="12.6"/><circle cx="1880.0" cy="709.5" r="12.6"/><circle cx="1881.7" cy="638.7" r="12.6"/><circle cx="1882.3" cy="611.1" r="12.6"/><circle cx="1883.1" cy="1074.3" r="12.6"/><circle cx="1884.6" cy="800.9" r="12.6"/><circle cx="1885.8" cy="686.1" r="12.6"/><circle cx="1887.0" cy="922.0" r="12.6"/><circle cx="1888.1" cy="943.8" r="12.6"/><circle cx="1889.3" cy="1031.6" r="12.6"/><circle cx="1890.4" cy="905.1" r="12.6"/><circle cx="1891.6" cy="742.5" r="12.6"/><circle cx="1892.7" cy="721.3" r="12.6"/><circle cx="1893.9" cy="652.0" r="12.6"/><circle cx="1895.0" cy="760.4" r="12.6"/><circle cx="1896.3" cy="1147.4" r="12.6"/><circle cx="1897.3" cy="826.6" r="12.6"/><circle cx="1898.5" cy="953.8" r="12.6"/><circle cx="1900.2" cy="609.2" r="12.6"/><circle cx="1900.8" cy="916.5" r="12.6"/><circle cx="1902.0" cy="900.1" r="12.6"/><circle cx="1903.4" cy="297.4" r="12.6"/><circle cx="1904.3" cy="826.4" r="12.6"/><circle cx="1905.6" cy="620.3" r="12.6"/><circle cx="1906.6" cy="841.3" r="12.6"/><circle cx="1907.3" cy="448.9" r="12.6"/><circle cx="1908.9" cy="937.8" r="12.6"/><circle cx="1909.9" cy="1068.8" r="12.6"/><circle cx="1911.2" cy="695.1" r="12.6"/><circle cx="1912.4" cy="758.9" r="12.6"/><circle cx="1913.5" cy="688.2" r="12.6"/><circle cx="1914.7" cy="1000.2" r="12.6"/><circle cx="1915.8" cy="984.2" r="12.6"/><circle cx="1917.0" cy="946.3" r="12.6"/><circle cx="1918.1" cy="738.6" r="12.6"/><circle cx="1919.2" cy="1072.7" r="12.6"/><circle cx="1920.5" cy="894.6" r="12.6"/><circle cx="1921.1" cy="589.2" r="12.6"/><circle cx="1922.8" cy="833.5" r="12.6"/><circle cx="1923.9" cy="859.4" r="12.6"/><circle cx="1925.1" cy="820.1" r="12.6"/><circle cx="1926.4" cy="546.5" r="12.6"/><circle cx="1927.4" cy="877.2" r="12.6"/><circle cx="1928.3" cy="1059.5" r="12.6"/><circle cx="1929.7" cy="748.7" r="12.6"/><circle cx="1930.8" cy="883.7" r="12.6"/><circle cx="1932.1" cy="523.0" r="12.6"/><circle cx="1933.2" cy="801.8" r="12.6"/><circle cx="1934.1" cy="633.5" r="12.6"/><circle cx="1935.5" cy="743.4" r="12.6"/><circle cx="1937.0" cy="1052.3" r="12.6"/><circle cx="1937.8" cy="776.3" r="12.6"/><circle cx="1938.9" cy="739.5" r="12.6"/><circle cx="1940.1" cy="888.6" r="12.6"/><circle cx="1941.2" cy="769.1" r="12.6"/><circle cx="1942.4" cy="848.7" r="12.6"/><circle cx="1943.6" cy="775.1" r="12.6"/><circle cx="1944.4" cy="1130.9" r="12.6"/><circle cx="1945.9" cy="686.3" r="12.6"/><circle cx="1947.0" cy="942.6" r="12.6"/><circle cx="1948.1" cy="1161.5" r="12.6"/><circle cx="1949.3" cy="734.5" r="12.6"/><circle cx="1950.5" cy="941.1" r="12.6"/><circle cx="1952.1" cy="502.1" r="12.6"/><circle cx="1952.8" cy="928.6" r="12.6"/><circle cx="1954.0" cy="711.5" r="12.6"/><circle cx="1955.5" cy="1063.0" r="12.6"/><circle cx="1956.3" cy="804.9" r="12.6"/><circle cx="1957.4" cy="852.3" r="12.6"/><circle cx="1958.0" cy="1047.1" r="12.6"/><circle cx="1959.9" cy="1085.3" r="12.6"/><circle cx="1960.9" cy="786.0" r="12.6"/><circle cx="1962.0" cy="732.4" r="12.6"/><circle cx="1963.2" cy="942.5" r="12.6"/><circle cx="1964.4" cy="829.3" r="12.6"/><circle cx="1965.5" cy="887.9" r="12.6"/><circle cx="1966.2" cy="392.1" r="12.6"/><circle cx="1967.1" cy="624.1" r="12.6"/><circle cx="1969.0" cy="775.4" r="12.6"/><circle cx="1970.1" cy="867.5" r="12.6"/><circle cx="1971.0" cy="1131.9" r="12.6"/><circle cx="1973.0" cy="643.5" r="12.6"/><circle cx="1973.6" cy="757.6" r="12.6"/><circle cx="1974.7" cy="855.0" r="12.6"/><circle cx="1975.9" cy="916.0" r="12.6"/><circle cx="1977.1" cy="855.9" r="12.6"/><circle cx="1977.8" cy="551.7" r="12.6"/><circle cx="1979.4" cy="604.1" r="12.6"/><circle cx="1980.5" cy="774.3" r="12.6"/><circle cx="1981.7" cy="705.0" r="12.6"/><circle cx="1982.8" cy="832.7" r="12.6"/><circle cx="1984.0" cy="849.6" r="12.6"/><circle cx="1985.1" cy="782.5" r="12.6"/><circle cx="1986.3" cy="731.0" r="12.6"/><circle cx="1987.5" cy="562.6" r="12.6"/><circle cx="1988.6" cy="898.0" r="12.6"/><circle cx="1989.8" cy="1030.3" r="12.6"/><circle cx="1990.9" cy="819.8" r="12.6"/><circle cx="1992.1" cy="879.3" r="12.6"/><circle cx="1993.1" cy="465.3" r="12.6"/><circle cx="1994.4" cy="865.5" r="12.6"/><circle cx="1995.5" cy="652.8" r="12.6"/><circle cx="1996.7" cy="814.4" r="12.6"/><circle cx="1997.9" cy="723.3" r="12.6"/><circle cx="1999.0" cy="956.4" r="12.6"/><circle cx="2000.2" cy="782.9" r="12.6"/><circle cx="2001.3" cy="729.5" r="12.6"/><circle cx="2002.5" cy="800.7" r="12.6"/><circle cx="2003.6" cy="853.8" r="12.6"/><circle cx="2004.8" cy="772.9" r="12.6"/><circle cx="2005.9" cy="837.9" r="12.6"/><circle cx="2007.1" cy="704.0" r="12.6"/><circle cx="2008.3" cy="812.7" r="12.6"/><circle cx="2009.4" cy="910.4" r="12.6"/><circle cx="2010.6" cy="1007.0" r="12.6"/><circle cx="2011.7" cy="883.7" r="12.6"/><circle cx="2012.4" cy="597.0" r="12.6"/><circle cx="2014.0" cy="831.7" r="12.6"/><circle cx="2015.2" cy="926.0" r="12.6"/><circle cx="2016.3" cy="907.6" r="12.6"/><circle cx="2017.5" cy="970.6" r="12.6"/><circle cx="2019.0" cy="546.5" r="12.6"/><circle cx="2019.0" cy="635.8" r="12.6"/><circle cx="2021.0" cy="911.3" r="12.6"/><circle cx="2022.1" cy="782.3" r="12.6"/><circle cx="2023.3" cy="834.3" r="12.6"/><circle cx="2024.4" cy="830.2" r="12.6"/><circle cx="2025.6" cy="851.0" r="12.6"/><circle cx="2027.3" cy="1368.1" r="12.6"/><circle cx="2026.7" cy="631.9" r="12.6"/><circle cx="2029.0" cy="885.7" r="12.6"/><circle cx="2030.2" cy="793.4" r="12.6"/><circle cx="2031.4" cy="680.6" r="12.6"/><circle cx="2032.5" cy="842.7" r="12.6"/><circle cx="2033.1" cy="1043.6" r="12.6"/><circle cx="2034.8" cy="713.9" r="12.6"/><circle cx="2036.0" cy="927.2" r="12.6"/><circle cx="2037.1" cy="905.9" r="12.6"/><circle cx="2038.3" cy="711.1" r="12.6"/><circle cx="2038.9" cy="626.1" r="12.6"/><circle cx="2040.6" cy="938.0" r="12.6"/><circle cx="2041.8" cy="942.6" r="12.6"/><circle cx="2042.9" cy="848.6" r="12.6"/><circle cx="2044.1" cy="994.0" r="12.6"/><circle cx="2045.2" cy="1002.2" r="12.6"/><circle cx="2048.1" cy="556.2" r="12.6"/><circle cx="2047.7" cy="543.6" r="12.6"/><circle cx="2049.2" cy="454.3" r="12.6"/><circle cx="2049.8" cy="669.6" r="12.6"/><circle cx="2051.0" cy="881.2" r="12.6"/><circle cx="2052.2" cy="502.1" r="12.6"/><circle cx="2053.3" cy="823.7" r="12.6"/><circle cx="2054.5" cy="831.5" r="12.6"/><circle cx="2055.6" cy="893.1" r="12.6"/><circle cx="2057.0" cy="1043.6" r="12.6"/><circle cx="2057.9" cy="725.6" r="12.6"/><circle cx="2059.1" cy="742.1" r="12.6"/><circle cx="2060.3" cy="244.2" r="12.6"/><circle cx="2061.4" cy="733.1" r="12.6"/><circle cx="2062.5" cy="750.1" r="12.6"/><circle cx="2063.2" cy="1087.3" r="12.6"/><circle cx="2064.9" cy="850.6" r="12.6"/><circle cx="2066.0" cy="692.3" r="12.6"/><circle cx="2067.2" cy="710.1" r="12.6"/><circle cx="2068.1" cy="334.4" r="12.6"/><circle cx="2069.5" cy="849.0" r="12.6"/><circle cx="2070.2" cy="404.1" r="12.6"/><circle cx="2071.8" cy="768.3" r="12.6"/><circle cx="2072.9" cy="835.9" r="12.6"/><circle cx="2074.1" cy="659.7" r="12.6"/><circle cx="2075.3" cy="725.7" r="12.6"/><circle cx="2076.4" cy="641.6" r="12.6"/><circle cx="2078.1" cy="1358.2" r="12.6"/><circle cx="2078.7" cy="784.1" r="12.6"/><circle cx="2079.9" cy="867.7" r="12.6"/><circle cx="2081.0" cy="808.3" r="12.6"/><circle cx="2082.2" cy="977.8" r="12.6"/><circle cx="2083.3" cy="871.9" r="12.6"/><circle cx="2084.2" cy="646.1" r="12.6"/><circle cx="2085.7" cy="856.5" r="12.6"/><circle cx="2086.8" cy="842.5" r="12.6"/><circle cx="2088.0" cy="903.6" r="12.6"/><circle cx="2089.1" cy="758.0" r="12.6"/><circle cx="2090.3" cy="926.4" r="12.6"/><circle cx="2091.4" cy="632.5" r="12.6"/><circle cx="2092.6" cy="871.4" r="12.6"/><circle cx="2093.7" cy="843.0" r="12.6"/><circle cx="2094.9" cy="840.9" r="12.6"/><circle cx="2096.6" cy="1172.9" r="12.6"/><circle cx="2097.2" cy="1130.5" r="12.6"/><circle cx="2098.4" cy="917.6" r="12.6"/><circle cx="2099.5" cy="975.1" r="12.6"/><circle cx="2100.7" cy="976.9" r="12.6"/><circle cx="2101.8" cy="914.0" r="12.6"/><circle cx="2103.0" cy="955.2" r="12.6"/><circle cx="2104.5" cy="511.7" r="12.6"/><circle cx="2105.3" cy="856.4" r="12.6"/><circle cx="2106.4" cy="958.7" r="12.6"/><circle cx="2107.6" cy="812.7" r="12.6"/><circle cx="2108.4" cy="510.8" r="12.6"/><circle cx="2109.9" cy="657.5" r="12.6"/><circle cx="2111.1" cy="952.4" r="12.6"/><circle cx="2112.2" cy="827.0" r="12.6"/><circle cx="2113.4" cy="699.4" r="12.6"/><circle cx="2114.5" cy="809.9" r="12.6"/><circle cx="2115.7" cy="733.5" r="12.6"/><circle cx="2116.8" cy="1022.9" r="12.6"/><circle cx="2118.0" cy="909.2" r="12.6"/><circle cx="2119.2" cy="699.0" r="12.6"/><circle cx="2120.3" cy="929.9" r="12.6"/><circle cx="2121.4" cy="627.0" r="12.6"/><circle cx="2122.4" cy="1104.1" r="12.6"/><circle cx="2124.1" cy="1435.9" r="12.6"/><circle cx="2123.4" cy="634.8" r="12.6"/><circle cx="2126.3" cy="599.5" r="12.6"/><circle cx="2127.4" cy="1223.1" r="12.6"/><circle cx="2128.8" cy="589.8" r="12.6"/><circle cx="2129.6" cy="829.5" r="12.6"/><circle cx="2130.7" cy="1024.0" r="12.6"/><circle cx="2131.9" cy="741.0" r="12.6"/><circle cx="2133.0" cy="661.4" r="12.6"/><circle cx="2134.2" cy="868.4" r="12.6"/><circle cx="2135.5" cy="1184.2" r="12.6"/><circle cx="2136.6" cy="1144.1" r="12.6"/><circle cx="2137.6" cy="848.4" r="12.6"/><circle cx="2138.9" cy="1132.5" r="12.6"/><circle cx="2140.0" cy="866.3" r="12.6"/><circle cx="2140.8" cy="1455.3" r="12.6"/><circle cx="2142.3" cy="704.9" r="12.6"/><circle cx="2143.4" cy="983.4" r="12.6"/><circle cx="2144.3" cy="1092.1" r="12.6"/><circle cx="2145.7" cy="1035.3" r="12.6"/><circle cx="2147.4" cy="1182.4" r="12.6"/><circle cx="2148.0" cy="750.6" r="12.6"/><circle cx="2149.2" cy="1018.7" r="12.6"/><circle cx="2150.3" cy="852.7" r="12.6"/><circle cx="2151.5" cy="1033.4" r="12.6"/><circle cx="2152.8" cy="1153.5" r="12.6"/><circle cx="2152.1" cy="642.2" r="12.6"/><circle cx="2155.5" cy="1273.0" r="12.6"/><circle cx="2156.0" cy="1150.3" r="12.6"/><circle cx="2157.3" cy="932.2" r="12.6"/><circle cx="2157.9" cy="1158.5" r="12.6"/><circle cx="2159.8" cy="437.8" r="12.6"/><circle cx="2160.7" cy="881.4" r="12.6"/><circle cx="2161.9" cy="997.8" r="12.6"/><circle cx="2163.2" cy="595.0" r="12.6"/><circle cx="2164.2" cy="925.9" r="12.6"/><circle cx="2165.4" cy="795.3" r="12.6"/><circle cx="2166.0" cy="1287.4" r="12.6"/><circle cx="2167.7" cy="916.1" r="12.6"/><circle cx="2168.8" cy="765.5" r="12.6"/><circle cx="2170.0" cy="665.4" r="12.6"/><circle cx="2171.1" cy="1018.7" r="12.6"/><circle cx="2171.9" cy="634.4" r="12.6"/><circle cx="2173.5" cy="825.0" r="12.6"/><circle cx="2174.6" cy="804.9" r="12.6"/><circle cx="2175.8" cy="918.5" r="12.6"/><circle cx="2176.9" cy="712.1" r="12.6"/><circle cx="2178.1" cy="726.1" r="12.6"/><circle cx="2179.2" cy="822.0" r="12.6"/><circle cx="2180.4" cy="815.0" r="12.6"/><circle cx="2181.5" cy="876.8" r="12.6"/><circle cx="2182.7" cy="979.6" r="12.6"/><circle cx="2183.5" cy="637.7" r="12.6"/><circle cx="2185.0" cy="803.6" r="12.6"/><circle cx="2186.2" cy="902.9" r="12.6"/><circle cx="2187.3" cy="913.0" r="12.6"/><circle cx="2188.5" cy="718.7" r="12.6"/><circle cx="2189.6" cy="869.1" r="12.6"/><circle cx="2190.8" cy="726.7" r="12.6"/><circle cx="2191.9" cy="947.1" r="12.6"/><circle cx="2193.1" cy="880.0" r="12.6"/><circle cx="2194.2" cy="826.8" r="12.6"/><circle cx="2195.4" cy="686.6" r="12.6"/><circle cx="2196.2" cy="579.5" r="12.6"/><circle cx="2197.7" cy="826.7" r="12.6"/><circle cx="2199.1" cy="609.6" r="12.6"/><circle cx="2200.0" cy="717.0" r="12.6"/><circle cx="2201.1" cy="543.1" r="12.6"/><circle cx="2202.0" cy="1065.9" r="12.6"/><circle cx="2203.5" cy="908.9" r="12.6"/><circle cx="2204.6" cy="830.2" r="12.6"/><circle cx="2205.3" cy="1120.3" r="12.6"/><circle cx="2207.0" cy="762.9" r="12.6"/><circle cx="2208.4" cy="601.8" r="12.6"/><circle cx="2209.3" cy="971.0" r="12.6"/><circle cx="2210.4" cy="959.8" r="12.6"/><circle cx="2211.6" cy="833.1" r="12.6"/><circle cx="2212.7" cy="1002.3" r="12.6"/><circle cx="2213.9" cy="854.1" r="12.6"/><circle cx="2215.0" cy="839.9" r="12.6"/><circle cx="2216.2" cy="617.3" r="12.6"/><circle cx="2217.5" cy="571.7" r="12.6"/><circle cx="2219.0" cy="541.6" r="12.6"/><circle cx="2219.7" cy="847.7" r="12.6"/><circle cx="2220.8" cy="730.6" r="12.6"/><circle cx="2221.4" cy="589.2" r="12.6"/><circle cx="2223.0" cy="1238.0" r="12.6"/><circle cx="2224.7" cy="1062.6" r="12.6"/><circle cx="2225.4" cy="790.5" r="12.6"/><circle cx="2226.6" cy="835.2" r="12.6"/><circle cx="2227.7" cy="1005.7" r="12.6"/><circle cx="2228.9" cy="1011.7" r="12.6"/><circle cx="2230.1" cy="862.7" r="12.6"/><circle cx="2231.2" cy="1019.7" r="12.6"/><circle cx="2232.4" cy="877.9" r="12.6"/><circle cx="2234.0" cy="419.0" r="12.6"/><circle cx="2234.7" cy="901.9" r="12.6"/><circle cx="2235.8" cy="946.6" r="12.6"/><circle cx="2236.9" cy="1041.6" r="12.6"/><circle cx="2238.1" cy="867.6" r="12.6"/><circle cx="2239.3" cy="1025.3" r="12.6"/><circle cx="2240.5" cy="840.1" r="12.6"/><circle cx="2241.6" cy="684.8" r="12.6"/><circle cx="2242.9" cy="367.6" r="12.6"/><circle cx="2243.9" cy="926.7" r="12.6"/><circle cx="2245.1" cy="742.9" r="12.6"/><circle cx="2246.2" cy="769.9" r="12.6"/><circle cx="2247.4" cy="652.3" r="12.6"/><circle cx="2249.5" cy="1107.6" r="12.6"/><circle cx="2249.2" cy="1091.1" r="12.6"/><circle cx="2251.0" cy="480.3" r="12.6"/><circle cx="2252.0" cy="964.5" r="12.6"/><circle cx="2253.2" cy="958.6" r="12.6"/><circle cx="2254.3" cy="958.8" r="12.6"/><circle cx="2255.5" cy="962.2" r="12.6"/><circle cx="2256.3" cy="631.9" r="12.6"/><circle cx="2257.3" cy="573.7" r="12.6"/><circle cx="2258.9" cy="995.2" r="12.6"/><circle cx="2260.1" cy="806.5" r="12.6"/><circle cx="2261.2" cy="648.4" r="12.6"/><circle cx="2262.4" cy="888.3" r="12.6"/><circle cx="2263.6" cy="697.1" r="12.6"/><circle cx="2265.1" cy="562.0" r="12.6"/><circle cx="2266.0" cy="484.8" r="12.6"/><circle cx="2266.0" cy="1103.8" r="12.6"/><circle cx="2268.2" cy="724.3" r="12.6"/><circle cx="2269.3" cy="886.5" r="12.6"/><circle cx="2270.5" cy="845.9" r="12.6"/><circle cx="2271.9" cy="1135.8" r="12.6"/><circle cx="2272.8" cy="712.0" r="12.6"/><circle cx="2274.0" cy="890.4" r="12.6"/><circle cx="2275.1" cy="824.2" r="12.6"/><circle cx="2276.3" cy="739.3" r="12.6"/><circle cx="2277.4" cy="878.6" r="12.6"/><circle cx="2278.2" cy="1113.8" r="12.6"/><circle cx="2278.2" cy="1136.3" r="12.6"/><circle cx="2280.9" cy="810.2" r="12.6"/><circle cx="2282.0" cy="697.2" r="12.6"/><circle cx="2283.2" cy="743.4" r="12.6"/><circle cx="2284.4" cy="1023.7" r="12.6"/><circle cx="2285.4" cy="541.6" r="12.6"/><circle cx="2286.7" cy="707.0" r="12.6"/><circle cx="2287.8" cy="883.6" r="12.6"/><circle cx="2289.0" cy="915.0" r="12.6"/><circle cx="2290.4" cy="1095.2" r="12.6"/><circle cx="2290.9" cy="1290.1" r="12.6"/><circle cx="2291.8" cy="641.7" r="12.6"/><circle cx="2292.5" cy="1040.7" r="12.6"/><circle cx="2295.0" cy="505.1" r="12.6"/><circle cx="2295.9" cy="956.0" r="12.6"/><circle cx="2297.1" cy="746.8" r="12.6"/><circle cx="2298.2" cy="855.2" r="12.6"/><circle cx="2299.4" cy="883.2" r="12.6"/><circle cx="2300.5" cy="933.0" r="12.6"/><circle cx="2301.7" cy="750.4" r="12.6"/><circle cx="2303.3" cy="558.6" r="12.6"/><circle cx="2304.0" cy="681.8" r="12.6"/><circle cx="2305.4" cy="622.4" r="12.6"/><circle cx="2306.3" cy="888.8" r="12.6"/><circle cx="2307.5" cy="891.7" r="12.6"/><circle cx="2308.3" cy="630.3" r="12.6"/><circle cx="2309.8" cy="795.9" r="12.6"/><circle cx="2310.9" cy="690.6" r="12.6"/><circle cx="2312.1" cy="779.8" r="12.6"/><circle cx="2313.2" cy="733.7" r="12.6"/><circle cx="2314.7" cy="356.2" r="12.6"/><circle cx="2315.9" cy="499.7" r="12.6"/><circle cx="2316.8" cy="492.3" r="12.6"/><circle cx="2317.9" cy="799.4" r="12.6"/><circle cx="2319.0" cy="658.4" r="12.6"/><circle cx="2320.2" cy="731.4" r="12.6"/><circle cx="2321.3" cy="715.2" r="12.6"/><circle cx="2322.5" cy="662.0" r="12.6"/><circle cx="2323.6" cy="768.8" r="12.6"/><circle cx="2324.8" cy="764.7" r="12.6"/><circle cx="2325.9" cy="737.0" r="12.6"/><circle cx="2327.1" cy="858.9" r="12.6"/><circle cx="2328.3" cy="689.9" r="12.6"/><circle cx="2329.4" cy="853.8" r="12.6"/><circle cx="2330.6" cy="922.0" r="12.6"/><circle cx="2331.3" cy="1181.8" r="12.6"/><circle cx="2332.7" cy="1219.2" r="12.6"/><circle cx="2334.0" cy="927.1" r="12.6"/><circle cx="2335.2" cy="1003.5" r="12.6"/><circle cx="2336.6" cy="1045.5" r="12.6"/><circle cx="2337.5" cy="781.5" r="12.6"/><circle cx="2338.7" cy="750.4" r="12.6"/><circle cx="2339.3" cy="1235.1" r="12.6"/><circle cx="2340.2" cy="1163.3" r="12.6"/><circle cx="2342.1" cy="960.8" r="12.6"/><circle cx="2343.3" cy="981.7" r="12.6"/><circle cx="2344.4" cy="1034.8" r="12.6"/><circle cx="2345.5" cy="598.5" r="12.6"/><circle cx="2346.8" cy="1164.5" r="12.6"/><circle cx="2347.9" cy="950.8" r="12.6"/><circle cx="2349.1" cy="772.1" r="12.6"/><circle cx="2349.8" cy="575.8" r="12.6"/><circle cx="2351.4" cy="942.2" r="12.6"/><circle cx="2352.5" cy="748.4" r="12.6"/><circle cx="2353.7" cy="690.1" r="12.6"/><circle cx="2354.8" cy="1031.5" r="12.6"/><circle cx="2356.0" cy="867.6" r="12.6"/><circle cx="2357.3" cy="1131.4" r="12.6"/><circle cx="2358.3" cy="892.0" r="12.6"/><circle cx="2359.6" cy="567.5" r="12.6"/><circle cx="2360.6" cy="876.0" r="12.6"/><circle cx="2361.8" cy="999.6" r="12.6"/><circle cx="2362.9" cy="859.8" r="12.6"/><circle cx="2364.1" cy="960.2" r="12.6"/><circle cx="2365.2" cy="725.3" r="12.6"/><circle cx="2366.4" cy="700.8" r="12.6"/><circle cx="2367.5" cy="997.5" r="12.6"/><circle cx="2368.7" cy="1003.9" r="12.6"/><circle cx="2369.8" cy="924.5" r="12.6"/><circle cx="2371.0" cy="889.6" r="12.6"/><circle cx="2372.4" cy="1048.3" r="12.6"/><circle cx="2373.3" cy="872.8" r="12.6"/><circle cx="2374.5" cy="759.1" r="12.6"/><circle cx="2375.6" cy="990.7" r="12.6"/><circle cx="2376.8" cy="899.3" r="12.6"/><circle cx="2377.9" cy="876.0" r="12.6"/><circle cx="2379.1" cy="855.7" r="12.6"/><circle cx="2380.2" cy="915.7" r="12.6"/><circle cx="2381.4" cy="866.5" r="12.6"/><circle cx="2383.0" cy="1343.3" r="12.6"/><circle cx="2382.0" cy="544.3" r="12.6"/><circle cx="2384.9" cy="905.2" r="12.6"/><circle cx="2386.0" cy="707.9" r="12.6"/><circle cx="2387.6" cy="440.8" r="12.6"/><circle cx="2388.3" cy="900.4" r="12.6"/><circle cx="2389.5" cy="1027.0" r="12.6"/><circle cx="2390.6" cy="796.9" r="12.6"/><circle cx="2391.8" cy="850.8" r="12.6"/><circle cx="2393.0" cy="953.8" r="12.6"/><circle cx="2394.5" cy="499.1" r="12.6"/><circle cx="2395.3" cy="946.7" r="12.6"/><circle cx="2396.4" cy="902.5" r="12.6"/><circle cx="2397.6" cy="670.8" r="12.6"/><circle cx="2398.7" cy="877.9" r="12.6"/><circle cx="2399.9" cy="692.6" r="12.6"/><circle cx="2401.0" cy="714.3" r="12.6"/><circle cx="2402.2" cy="863.0" r="12.6"/><circle cx="2403.5" cy="587.3" r="12.6"/><circle cx="2404.5" cy="746.5" r="12.6"/><circle cx="2405.7" cy="877.1" r="12.6"/><circle cx="2406.8" cy="1032.9" r="12.6"/><circle cx="2408.0" cy="875.7" r="12.6"/><circle cx="2408.8" cy="507.2" r="12.6"/><circle cx="2410.3" cy="872.8" r="12.6"/><circle cx="2411.4" cy="698.5" r="12.6"/><circle cx="2412.6" cy="716.9" r="12.6"/><circle cx="2413.7" cy="690.3" r="12.6"/><circle cx="2414.9" cy="737.2" r="12.6"/><circle cx="2416.1" cy="697.4" r="12.6"/><circle cx="2417.2" cy="737.6" r="12.6"/><circle cx="2418.4" cy="801.7" r="12.6"/><circle cx="2419.3" cy="1062.2" r="12.6"/><circle cx="2420.3" cy="642.4" r="12.6"/><circle cx="2421.8" cy="730.9" r="12.6"/><circle cx="2423.0" cy="703.0" r="12.6"/><circle cx="2424.3" cy="1105.2" r="12.6"/><circle cx="2425.3" cy="715.4" r="12.6"/><circle cx="2426.5" cy="922.3" r="12.6"/><circle cx="2427.6" cy="888.4" r="12.6"/><circle cx="2428.8" cy="989.2" r="12.6"/><circle cx="2429.9" cy="995.7" r="12.6"/><circle cx="2431.5" cy="1146.3" r="12.6"/><circle cx="2432.2" cy="853.7" r="12.6"/><circle cx="2433.6" cy="624.3" r="12.6"/><circle cx="2434.5" cy="941.9" r="12.6"/><circle cx="2435.7" cy="707.6" r="12.6"/><circle cx="2436.8" cy="1029.3" r="12.6"/><circle cx="2438.0" cy="965.8" r="12.6"/><circle cx="2439.2" cy="812.7" r="12.6"/><circle cx="2440.3" cy="1083.3" r="12.6"/><circle cx="2441.5" cy="698.9" r="12.6"/><circle cx="2442.6" cy="861.3" r="12.6"/><circle cx="2443.2" cy="526.6" r="12.6"/><circle cx="2444.8" cy="1152.0" r="12.6"/><circle cx="2446.1" cy="671.4" r="12.6"/><circle cx="2447.2" cy="781.2" r="12.6"/><circle cx="2448.4" cy="949.0" r="12.6"/><circle cx="2449.2" cy="513.2" r="12.6"/><circle cx="2450.1" cy="648.9" r="12.6"/><circle cx="2451.4" cy="1243.1" r="12.6"/><circle cx="2453.0" cy="859.6" r="12.6"/><circle cx="2454.1" cy="1067.2" r="12.6"/><circle cx="2455.3" cy="781.5" r="12.6"/><circle cx="2456.5" cy="938.0" r="12.6"/><circle cx="2457.6" cy="714.3" r="12.6"/><circle cx="2459.4" cy="432.5" r="12.6"/><circle cx="2460.0" cy="874.3" r="12.6"/><circle cx="2461.1" cy="785.5" r="12.6"/><circle cx="2462.3" cy="1098.5" r="12.6"/><circle cx="2463.4" cy="753.9" r="12.6"/><circle cx="2464.6" cy="907.0" r="12.6"/><circle cx="2465.7" cy="747.0" r="12.6"/><circle cx="2466.9" cy="1022.5" r="12.6"/><circle cx="2468.0" cy="809.8" r="12.6"/><circle cx="2469.2" cy="1028.2" r="12.6"/><circle cx="2470.4" cy="757.0" r="12.6"/><circle cx="2471.5" cy="952.5" r="12.6"/><circle cx="2473.2" cy="1266.1" r="12.6"/><circle cx="2474.1" cy="1063.2" r="12.6"/><circle cx="2475.0" cy="762.1" r="12.6"/><circle cx="2476.1" cy="747.0" r="12.6"/><circle cx="2477.3" cy="918.2" r="12.6"/><circle cx="2478.4" cy="967.5" r="12.6"/><circle cx="2479.6" cy="757.1" r="12.6"/><circle cx="2480.7" cy="1007.1" r="12.6"/><circle cx="2481.9" cy="817.0" r="12.6"/><circle cx="2483.1" cy="916.5" r="12.6"/><circle cx="2484.2" cy="937.6" r="12.6"/><circle cx="2485.4" cy="950.5" r="12.6"/><circle cx="2486.5" cy="690.3" r="12.6"/><circle cx="2487.7" cy="1012.5" r="12.6"/><circle cx="2488.8" cy="916.2" r="12.6"/><circle cx="2489.5" cy="562.2" r="12.6"/><circle cx="2491.1" cy="786.1" r="12.6"/><circle cx="2492.3" cy="1107.4" r="12.6"/><circle cx="2493.1" cy="620.2" r="12.6"/><circle cx="2495.2" cy="1081.3" r="12.6"/><circle cx="2496.3" cy="1199.8" r="12.6"/><circle cx="2497.1" cy="1160.9" r="12.6"/><circle cx="2498.1" cy="795.2" r="12.6"/><circle cx="2499.2" cy="729.6" r="12.6"/><circle cx="2500.1" cy="1233.3" r="12.6"/><circle cx="2502.4" cy="1095.2" r="12.6"/><circle cx="2503.1" cy="1047.2" r="12.6"/><circle cx="2503.6" cy="503.3" r="12.6"/><circle cx="2505.0" cy="763.6" r="12.6"/><circle cx="2506.2" cy="960.0" r="12.6"/><circle cx="2507.3" cy="859.0" r="12.6"/><circle cx="2508.5" cy="748.4" r="12.6"/><circle cx="2509.6" cy="808.5" r="12.6"/><circle cx="2510.8" cy="1003.5" r="12.6"/><circle cx="2511.9" cy="800.1" r="12.6"/><circle cx="2513.1" cy="753.5" r="12.6"/><circle cx="2514.3" cy="955.7" r="12.6"/><circle cx="2515.4" cy="862.4" r="12.6"/><circle cx="2516.6" cy="809.2" r="12.6"/><circle cx="2517.7" cy="728.1" r="12.6"/><circle cx="2518.9" cy="664.2" r="12.6"/><circle cx="2520.0" cy="678.4" r="12.6"/><circle cx="2521.4" cy="548.3" r="12.6"/><circle cx="2522.3" cy="726.0" r="12.6"/><circle cx="2523.0" cy="531.1" r="12.6"/><circle cx="2524.6" cy="742.4" r="12.6"/><circle cx="2525.8" cy="811.0" r="12.6"/><circle cx="2527.4" cy="565.5" r="12.6"/><circle cx="2528.1" cy="825.2" r="12.6"/><circle cx="2529.3" cy="779.7" r="12.6"/><circle cx="2530.4" cy="780.9" r="12.6"/><circle cx="2531.6" cy="671.8" r="12.6"/><circle cx="2533.2" cy="595.2" r="12.6"/><circle cx="2533.9" cy="652.9" r="12.6"/><circle cx="2535.0" cy="712.1" r="12.6"/><circle cx="2536.2" cy="681.1" r="12.6"/><circle cx="2537.4" cy="706.3" r="12.6"/><circle cx="2538.5" cy="746.6" r="12.6"/><circle cx="2540.0" cy="1063.2" r="12.6"/><circle cx="2540.8" cy="692.1" r="12.6"/><circle cx="2542.0" cy="713.6" r="12.6"/><circle cx="2543.1" cy="847.7" r="12.6"/><circle cx="2544.3" cy="885.6" r="12.6"/><circle cx="2545.4" cy="803.1" r="12.6"/><circle cx="2546.5" cy="1181.8" r="12.6"/><circle cx="2547.8" cy="913.9" r="12.6"/><circle cx="2549.2" cy="640.3" r="12.6"/><circle cx="2550.1" cy="823.9" r="12.6"/><circle cx="2551.2" cy="724.7" r="12.6"/><circle cx="2552.4" cy="851.2" r="12.6"/><circle cx="2553.5" cy="1016.2" r="12.6"/><circle cx="2554.7" cy="779.2" r="12.6"/><circle cx="2555.8" cy="982.7" r="12.6"/><circle cx="2556.9" cy="1154.9" r="12.6"/><circle cx="2558.2" cy="1005.0" r="12.6"/><circle cx="2559.3" cy="1015.7" r="12.6"/><circle cx="2560.5" cy="800.7" r="12.6"/><circle cx="2561.6" cy="1031.1" r="12.6"/><circle cx="2562.5" cy="1058.4" r="12.6"/><circle cx="2563.2" cy="1090.4" r="12.6"/><circle cx="2565.1" cy="909.4" r="12.6"/><circle cx="2566.2" cy="863.4" r="12.6"/><circle cx="2567.4" cy="857.4" r="12.6"/><circle cx="2568.5" cy="932.1" r="12.6"/><circle cx="2569.7" cy="867.7" r="12.6"/><circle cx="2570.4" cy="1131.4" r="12.6"/><circle cx="2572.3" cy="538.0" r="12.6"/><circle cx="2573.2" cy="826.8" r="12.6"/><circle cx="2574.3" cy="982.8" r="12.6"/><circle cx="2575.5" cy="779.0" r="12.6"/><circle cx="2576.6" cy="746.8" r="12.6"/><circle cx="2577.7" cy="498.2" r="12.6"/><circle cx="2578.9" cy="961.2" r="12.6"/><circle cx="2580.1" cy="939.8" r="12.6"/><circle cx="2581.3" cy="958.8" r="12.6"/><circle cx="2582.8" cy="379.6" r="12.6"/><circle cx="2583.6" cy="696.0" r="12.6"/><circle cx="2584.7" cy="902.5" r="12.6"/><circle cx="2585.5" cy="638.9" r="12.6"/><circle cx="2587.0" cy="835.5" r="12.6"/><circle cx="2587.7" cy="1355.2" r="12.6"/><circle cx="2589.3" cy="984.1" r="12.6"/><circle cx="2590.5" cy="687.4" r="12.6"/><circle cx="2591.7" cy="850.4" r="12.6"/><circle cx="2592.8" cy="799.9" r="12.6"/><circle cx="2594.0" cy="681.4" r="12.6"/><circle cx="2595.1" cy="768.4" r="12.6"/><circle cx="2596.3" cy="977.7" r="12.6"/><circle cx="2597.4" cy="822.3" r="12.6"/><circle cx="2598.6" cy="785.0" r="12.6"/><circle cx="2599.7" cy="953.5" r="12.6"/><circle cx="2601.2" cy="574.4" r="12.6"/><circle cx="2602.1" cy="951.1" r="12.6"/><circle cx="2603.2" cy="942.7" r="12.6"/><circle cx="2604.4" cy="732.3" r="12.6"/><circle cx="2605.5" cy="812.8" r="12.6"/><circle cx="2606.7" cy="531.1" r="12.6"/><circle cx="2607.8" cy="913.8" r="12.6"/><circle cx="2609.0" cy="717.1" r="12.6"/><circle cx="2610.1" cy="709.0" r="12.6"/><circle cx="2611.3" cy="872.9" r="12.6"/><circle cx="2612.4" cy="954.3" r="12.6"/><circle cx="2613.4" cy="1143.2" r="12.6"/><circle cx="2614.8" cy="645.3" r="12.6"/><circle cx="2616.2" cy="603.1" r="12.6"/><circle cx="2617.1" cy="703.2" r="12.6"/><circle cx="2618.2" cy="654.0" r="12.6"/><circle cx="2619.7" cy="1157.9" r="12.6"/><circle cx="2620.5" cy="699.6" r="12.6"/><circle cx="2621.7" cy="744.8" r="12.6"/><circle cx="2622.8" cy="862.4" r="12.6"/><circle cx="2624.0" cy="949.7" r="12.6"/></g><path clip-path="url(#ca)" d="M313.5,507.5 L313.5,507.5 L314.7,616.0 L315.8,699.6 L316.8,777.1 L317.0,775.6 L318.1,764.8 L319.3,764.1 L320.4,764.6 L321.6,757.9 L322.7,739.8 L323.7,739.5 L323.9,744.0 L325.1,781.5 L326.2,806.9 L327.4,835.5 L328.5,848.4 L329.7,884.7 L330.8,929.6 L332.0,948.0 L333.1,963.0 L334.3,998.2 L335.4,1022.6 L335.6,1026.4 L336.6,993.7 L337.8,968.9 L338.9,951.7 L340.1,894.3 L341.2,867.7 L342.4,863.6 L343.5,833.5 L344.7,795.5 L345.8,795.7 L347.0,785.7 L347.6,770.3 L348.2,774.3 L349.3,770.3 L350.5,777.0 L351.6,802.0 L352.8,797.0 L353.9,798.2 L355.1,804.4 L356.1,804.4 L356.2,812.2 L357.4,863.4 L358.6,925.6 L359.5,975.2 L359.7,974.7 L360.9,975.2 L362.0,960.5 L363.2,929.4 L364.3,930.0 L365.5,924.0 L366.6,924.0 L367.8,940.1 L369.0,927.4 L369.8,924.0 L370.1,930.3 L371.3,964.7 L372.4,986.5 L373.6,996.1 L374.7,1010.9 L374.9,1012.8 L375.9,986.5 L377.0,952.3 L378.2,947.9 L379.3,885.5 L380.5,853.8 L381.7,845.2 L382.8,817.0 L383.4,801.0 L384.0,805.3 L385.1,807.6 L386.3,822.6 L387.4,817.5 L388.6,828.0 L389.7,844.0 L390.9,847.7 L392.0,852.2 L392.1,851.0 L393.2,830.5 L394.4,822.3 L395.5,785.7 L396.7,760.4 L397.8,740.7 L398.8,712.2 L399.0,717.3 L400.1,730.5 L401.3,735.5 L402.5,777.2 L403.6,776.1 L404.8,782.8 L405.6,797.6 L405.9,803.2 L407.1,821.8 L408.2,832.4 L409.4,872.2 L410.5,878.4 L410.8,883.0 L411.7,896.1 L412.9,915.8 L414.0,943.6 L415.2,1006.2 L416.3,1034.6 L417.5,1040.6 L417.6,1043.5 L418.6,1003.8 L419.8,984.7 L420.9,983.8 L422.1,948.0 L423.2,883.3 L424.4,849.7 L425.6,828.2 L426.7,789.5 L427.9,753.3 L429.0,727.9 L429.5,715.6 L430.2,718.6 L431.3,719.7 L432.5,715.6 L433.6,715.6 L434.8,715.6 L436.0,725.9 L437.1,725.9 L438.1,725.9 L438.3,727.6 L439.4,748.6 L440.6,791.5 L441.7,827.4 L442.9,841.2 L444.0,826.1 L445.2,838.7 L446.4,871.6 L446.6,876.1 L447.5,876.1 L448.7,860.0 L449.8,803.6 L451.0,805.3 L452.1,785.9 L453.3,768.1 L453.4,766.9 L454.4,766.9 L455.6,771.8 L456.8,787.3 L457.9,787.3 L459.1,787.3 L460.2,787.2 L460.3,787.3 L461.4,808.4 L462.5,813.0 L463.7,804.5 L464.8,869.2 L466.0,904.4 L467.1,924.8 L468.3,950.7 L468.8,958.1 L469.5,958.1 L470.6,958.1 L471.8,958.1 L472.9,938.5 L474.1,912.5 L475.2,907.2 L475.6,906.9 L476.4,913.6 L477.5,919.9 L478.7,927.5 L479.9,958.7 L481.0,986.5 L482.2,999.9 L483.3,1007.9 L484.2,1029.8 L484.5,1022.0 L485.6,1004.2 L486.8,997.7 L487.9,983.8 L489.1,938.2 L490.3,912.6 L491.0,903.5 L491.4,909.2 L492.6,936.3 L493.7,958.3 L494.9,985.4 L496.0,962.0 L497.2,946.6 L498.3,973.6 L499.5,979.7 L500.7,983.6 L501.3,985.4 L501.8,985.4 L503.0,985.4 L504.1,982.0 L505.3,982.0 L506.4,982.0 L507.6,982.0 L508.7,982.0 L509.8,982.0 L509.9,979.2 L511.0,952.0 L512.2,920.8 L513.4,876.9 L514.5,837.6 L514.9,824.9 L515.7,814.9 L516.8,797.7 L518.0,780.9 L519.1,775.6 L520.3,769.8 L521.4,759.5 L522.6,728.9 L523.8,722.1 L524.9,712.2 L525.2,708.8 L526.1,708.8 L527.2,708.8 L528.4,708.8 L529.5,708.8 L530.7,708.8 L531.8,708.8 L533.0,708.8 L534.2,708.8 L535.3,708.8 L535.4,708.8 L536.5,724.3 L537.6,740.8 L538.8,754.0 L539.9,802.2 L541.1,825.6 L542.2,830.1 L543.4,879.0 L544.5,885.9 L545.7,913.7 L545.7,913.6 L546.9,904.0 L548.0,896.2 L549.2,873.8 L550.3,863.9 L551.5,844.3 L552.6,817.1 L553.8,797.1 L554.2,790.8 L554.9,802.8 L556.1,814.0 L557.3,830.4 L558.4,852.4 L559.6,841.5 L560.7,869.7 L561.9,913.3 L563.0,919.7 L563.7,920.5 L564.2,918.0 L565.3,910.0 L566.5,903.5 L567.7,883.8 L568.8,883.1 L570.0,859.1 L571.1,859.1 L572.2,859.1 L572.3,859.4 L573.4,859.1 L574.6,859.1 L575.7,859.1 L576.9,872.4 L578.1,905.6 L579.0,913.7 L579.2,912.3 L580.4,899.2 L581.5,880.1 L582.7,852.1 L583.8,821.1 L584.2,818.1 L585.0,808.0 L586.1,814.8 L587.3,804.3 L588.4,797.3 L589.6,799.4 L590.8,788.1 L591.0,787.3 L591.9,788.8 L593.1,797.1 L594.2,824.5 L595.4,841.1 L596.1,852.2 L596.5,847.4 L597.7,850.2 L598.8,828.1 L600.0,798.9 L601.2,781.4 L601.2,780.5 L602.3,812.1 L603.5,846.2 L604.6,860.5 L605.8,880.0 L606.9,936.3 L608.1,945.6 L609.2,947.1 L609.8,958.1 L610.4,948.7 L611.6,946.2 L612.7,935.2 L613.9,892.3 L615.0,884.1 L616.2,859.4 L616.6,852.2 L617.3,862.4 L618.5,889.4 L619.6,888.0 L620.8,925.6 L622.0,967.5 L623.1,953.9 L624.3,978.9 L625.4,1006.8 L626.6,1023.3 L626.8,1029.8 L627.7,1007.9 L628.9,1001.9 L630.0,1005.7 L631.2,991.1 L632.3,969.6 L633.5,960.8 L634.7,944.0 L635.8,940.8 L637.0,925.5 L638.1,902.3 L638.8,893.2 L639.3,886.1 L640.4,858.6 L641.6,821.7 L642.7,823.7 L643.9,797.6 L643.9,797.6 L645.1,783.0 L646.2,768.5 L647.4,751.0 L648.5,735.9 L649.7,721.2 L650.8,708.8 L650.8,709.5 L652.0,728.2 L653.1,758.6 L654.3,798.8 L655.5,783.6 L656.6,813.6 L657.8,856.6 L658.9,888.8 L660.1,912.5 L661.0,937.6 L661.2,932.3 L662.4,937.1 L663.5,916.6 L664.7,852.8 L665.9,844.0 L667.0,821.0 L667.8,806.1 L668.2,807.1 L669.3,806.1 L670.5,825.3 L671.6,852.0 L672.8,880.7 L673.9,883.4 L675.1,874.8 L676.2,913.7 L677.4,913.5 L678.1,913.7 L678.6,898.8 L679.7,867.0 L680.9,844.8 L682.0,828.8 L683.2,803.0 L684.3,754.2 L685.5,729.7 L686.6,705.4 L686.6,706.7 L687.8,746.3 L689.0,725.3 L690.1,718.8 L691.3,763.7 L692.4,792.5 L693.6,820.5 L694.7,850.1 L695.9,863.8 L696.9,865.9 L697.0,864.8 L698.2,851.6 L699.4,828.2 L700.5,812.1 L701.7,805.0 L702.8,778.4 L703.7,756.6 L704.0,758.9 L705.1,773.6 L706.3,793.9 L707.4,786.4 L708.6,785.7 L709.8,797.4 L710.5,807.8 L710.9,810.8 L712.1,807.8 L713.2,820.7 L714.4,880.9 L715.5,878.7 L716.7,898.3 L717.8,912.8 L719.0,919.5 L719.1,920.5 L720.1,890.6 L721.3,851.5 L722.5,862.4 L723.6,859.7 L724.8,833.6 L725.9,794.2 L725.9,794.2 L727.1,794.2 L728.2,787.3 L729.4,787.3 L730.5,794.2 L731.7,794.2 L732.9,794.2 L734.0,787.8 L734.4,787.3 L735.2,794.8 L736.3,808.2 L737.5,836.1 L738.6,853.1 L739.8,878.4 L740.9,891.5 L741.3,896.6 L742.1,890.4 L743.3,882.4 L744.4,880.1 L745.6,877.3 L746.7,848.8 L747.9,823.3 L749.0,842.8 L750.2,829.4 L751.3,809.9 L751.5,807.8 L752.5,824.8 L753.7,828.8 L754.8,824.1 L756.0,848.0 L757.1,869.2 L758.3,879.4 L758.3,879.6 L759.4,876.1 L760.6,876.1 L761.7,876.1 L762.9,879.6 L764.0,876.1 L765.2,876.1 L765.2,876.0 L766.4,859.7 L767.5,843.2 L768.7,827.6 L769.8,810.8 L771.0,824.1 L772.1,808.1 L773.3,772.9 L774.4,752.8 L775.4,736.1 L775.6,738.9 L776.8,756.4 L777.9,780.1 L779.1,780.2 L780.2,801.0 L781.4,827.7 L782.5,857.3 L783.7,878.4 L784.8,878.7 L786.0,918.3 L787.2,946.1 L788.3,950.5 L789.1,954.7 L789.5,949.9 L790.6,924.6 L791.8,888.8 L792.9,860.0 L794.1,853.7 L795.2,833.7 L796.4,773.7 L797.5,748.5 L798.7,731.7 L799.9,714.3 L800.2,708.8 L801.0,700.0 L802.2,674.3 L803.3,674.3 L804.5,684.3 L805.6,652.3 L806.8,657.2 L807.9,704.6 L809.1,666.3 L810.3,654.6 L811.4,656.4 L812.6,628.9 L813.7,629.0 L813.9,628.5 L814.9,628.5 L816.0,642.0 L817.2,677.0 L818.3,656.1 L819.5,653.8 L820.7,661.3 L821.8,679.0 L822.4,688.3 L823.0,696.1 L824.1,700.8 L825.3,690.6 L826.4,728.3 L827.6,761.9 L828.7,791.6 L829.9,782.1 L831.1,773.7 L832.2,794.9 L832.7,801.0 L833.4,813.2 L834.5,828.1 L835.7,862.5 L836.8,888.3 L837.8,893.2 L838.0,893.2 L839.1,892.8 L840.3,893.2 L841.4,889.8 L842.6,889.8 L842.9,889.8 L843.8,868.7 L844.9,863.2 L846.1,872.1 L847.2,817.8 L848.4,782.4 L849.5,735.6 L850.7,731.4 L851.5,722.5 L851.8,731.9 L853.0,753.0 L854.2,764.6 L855.3,803.6 L856.5,790.6 L857.6,812.2 L858.8,871.0 L859.9,871.2 L861.1,877.1 L861.7,886.4 L862.2,882.6 L863.4,862.8 L864.6,837.5 L865.7,861.2 L866.9,830.4 L868.0,818.5 L869.2,812.3 L870.3,797.6 L870.3,797.1 L871.5,779.0 L872.6,773.2 L873.8,769.7 L875.0,760.6 L876.1,764.8 L877.3,764.7 L878.4,750.4 L879.6,746.9 L880.5,743.0 L880.7,747.5 L881.9,781.9 L883.0,820.9 L884.2,829.2 L885.3,836.3 L886.5,886.0 L887.7,941.9 L888.8,946.7 L890.0,970.3 L890.8,990.6 L891.1,981.2 L892.3,939.2 L893.4,903.0 L894.6,892.5 L895.7,866.8 L895.9,862.5 L896.9,866.4 L898.1,875.4 L899.2,903.5 L900.4,900.0 L901.5,903.1 L902.7,903.4 L902.7,903.5 L903.8,886.3 L905.0,877.0 L906.1,864.0 L907.3,853.3 L908.5,820.7 L909.6,814.3 L910.8,803.3 L911.9,776.4 L913.0,766.9 L913.1,767.3 L914.2,777.6 L915.4,817.5 L916.5,843.9 L917.7,852.0 L918.9,829.1 L920.0,820.6 L921.2,856.0 L922.3,876.4 L923.2,893.2 L923.5,889.7 L924.6,882.4 L925.8,859.7 L926.9,848.4 L928.1,819.5 L929.2,783.9 L930.4,769.0 L931.6,775.1 L932.7,765.3 L933.4,753.2 L933.9,762.0 L935.0,789.5 L936.2,789.9 L937.3,783.2 L938.5,821.3 L939.6,826.9 L940.8,834.0 L942.0,884.2 L943.1,917.0 L944.3,922.6 L945.4,927.4 L945.4,927.2 L946.6,909.9 L947.7,904.1 L948.9,883.7 L950.0,862.1 L950.5,855.7 L951.2,871.7 L952.4,892.0 L953.5,887.2 L954.7,910.7 L955.8,939.9 L957.0,954.9 L957.3,958.1 L958.1,938.5 L959.3,912.0 L960.4,859.8 L961.6,809.1 L962.8,803.2 L963.9,775.2 L965.1,742.6 L965.9,729.3 L966.2,729.3 L967.4,732.3 L968.5,747.4 L969.7,757.9 L970.8,777.7 L972.0,830.0 L973.1,838.5 L974.3,846.5 L975.5,866.6 L976.6,847.1 L977.8,861.1 L978.9,882.9 L979.5,893.2 L980.1,887.3 L981.2,874.1 L982.4,868.9 L983.5,882.8 L984.7,824.8 L985.9,817.1 L987.0,857.0 L988.2,824.1 L989.3,805.4 L990.5,781.6 L991.6,769.9 L992.8,768.0 L993.2,766.9 L993.9,766.9 L995.1,766.9 L996.3,766.9 L997.4,766.9 L998.6,801.0 L999.7,801.0 L1000.9,798.6 L1001.7,801.0 L1002.0,806.3 L1003.2,816.7 L1004.3,835.3 L1005.5,877.0 L1006.6,864.2 L1007.8,862.3 L1009.0,898.1 L1010.1,889.1 L1011.3,912.7 L1012.0,920.5 L1012.4,920.1 L1013.6,899.8 L1014.7,881.9 L1015.9,876.6 L1017.0,829.2 L1018.2,829.1 L1019.4,814.1 L1020.5,776.8 L1021.7,767.9 L1022.8,742.2 L1023.9,708.8 L1024.0,709.9 L1025.1,710.8 L1026.3,708.8 L1027.4,716.6 L1028.6,730.3 L1029.8,721.1 L1030.9,723.6 L1032.1,728.6 L1033.2,739.2 L1034.2,749.8 L1034.4,753.3 L1035.5,777.6 L1036.7,781.1 L1037.8,810.8 L1039.0,850.4 L1040.2,853.7 L1041.3,861.1 L1042.5,896.9 L1043.6,919.2 L1043.7,920.5 L1044.8,909.0 L1045.9,886.3 L1047.1,865.2 L1048.2,848.7 L1049.4,834.1 L1050.5,820.2 L1051.7,786.5 L1052.9,769.8 L1054.0,766.4 L1055.2,781.1 L1056.3,748.5 L1057.5,707.0 L1058.6,693.5 L1059.0,684.9 L1059.8,694.9 L1060.9,684.9 L1062.1,691.8 L1063.3,732.8 L1064.4,802.1 L1065.6,827.3 L1066.7,824.7 L1067.9,829.9 L1069.0,837.9 L1069.3,845.4 L1070.2,814.7 L1071.3,808.3 L1072.5,823.8 L1073.7,780.1 L1074.8,777.9 L1076.0,764.8 L1076.1,763.4 L1077.1,763.5 L1078.3,780.5 L1079.4,779.8 L1080.6,763.4 L1081.7,771.2 L1082.9,775.1 L1084.1,778.8 L1084.6,780.5 L1085.2,799.7 L1086.4,835.8 L1087.5,879.8 L1088.1,896.6 L1088.7,902.0 L1089.8,904.9 L1091.0,919.5 L1092.1,917.8 L1093.3,923.3 L1094.4,957.3 L1095.6,983.5 L1096.8,984.2 L1097.9,1011.6 L1099.1,1035.2 L1100.2,1020.5 L1101.4,1043.7 L1101.7,1046.9 L1102.5,1041.1 L1103.7,1018.3 L1104.8,964.5 L1106.0,942.7 L1107.2,920.9 L1108.3,891.6 L1109.5,898.8 L1110.6,884.1 L1111.8,836.7 L1112.9,808.9 L1113.7,790.8 L1114.1,799.4 L1115.2,828.5 L1116.4,866.3 L1117.6,873.7 L1118.7,894.6 L1118.8,896.6 L1119.9,896.6 L1121.0,896.6 L1122.2,876.2 L1123.3,891.1 L1124.5,885.8 L1125.6,833.1 L1126.8,836.0 L1128.0,831.2 L1129.0,824.9 L1129.1,826.7 L1130.3,853.9 L1131.4,884.8 L1132.6,897.4 L1133.7,918.9 L1134.9,950.4 L1136.0,996.8 L1137.2,1021.0 L1137.6,1029.8 L1138.3,1009.3 L1139.5,1002.5 L1140.7,985.8 L1141.8,953.5 L1143.0,955.4 L1144.1,907.7 L1145.3,844.5 L1146.4,828.5 L1147.6,827.8 L1148.7,798.9 L1149.5,777.1 L1149.9,782.8 L1151.1,801.1 L1152.2,835.8 L1153.4,818.2 L1154.5,827.7 L1155.7,840.7 L1156.4,842.0 L1156.8,836.8 L1158.0,819.2 L1159.1,834.2 L1160.3,842.0 L1161.5,779.1 L1162.6,754.6 L1163.8,766.2 L1164.9,750.8 L1166.1,736.2 L1167.2,721.8 L1168.3,720.8 L1168.4,722.0 L1169.5,740.7 L1170.7,745.3 L1171.9,765.3 L1173.0,779.2 L1174.2,817.2 L1175.3,851.9 L1176.5,852.0 L1177.6,866.4 L1178.6,889.8 L1178.8,885.4 L1179.9,869.4 L1181.1,858.8 L1182.2,830.8 L1183.4,804.0 L1184.6,776.8 L1185.7,764.2 L1186.9,729.6 L1188.0,723.3 L1188.8,710.5 L1189.2,712.4 L1190.3,710.5 L1191.5,719.0 L1192.6,719.0 L1193.8,719.0 L1195.0,710.7 L1196.1,710.5 L1197.3,718.7 L1197.3,719.0 L1198.4,744.1 L1199.6,758.2 L1200.7,779.9 L1201.9,794.2 L1203.0,799.8 L1204.2,828.3 L1204.2,828.3 L1205.4,819.5 L1206.5,812.6 L1207.7,792.8 L1208.8,763.7 L1210.0,760.0 L1211.0,760.0 L1211.1,760.1 L1212.3,766.2 L1213.4,769.2 L1214.6,800.2 L1215.8,829.0 L1216.9,814.5 L1218.1,877.0 L1219.2,904.2 L1220.4,896.9 L1221.3,920.5 L1221.5,918.3 L1222.7,920.5 L1223.8,896.0 L1225.0,847.5 L1226.1,838.5 L1227.3,864.1 L1228.5,862.6 L1229.6,829.9 L1230.8,825.7 L1231.5,821.5 L1231.9,826.7 L1233.1,830.7 L1234.2,821.5 L1235.4,837.5 L1236.5,855.5 L1236.6,855.7 L1237.7,855.7 L1238.9,843.9 L1240.0,805.0 L1241.2,779.7 L1242.3,731.6 L1243.5,715.3 L1244.6,706.1 L1245.2,698.6 L1245.8,688.6 L1246.9,674.2 L1248.1,671.3 L1249.3,683.7 L1250.4,693.4 L1251.6,683.9 L1252.7,655.5 L1253.9,656.2 L1255.0,660.2 L1256.2,654.3 L1257.1,645.6 L1257.3,646.2 L1258.5,645.6 L1259.6,645.6 L1260.8,657.6 L1262.0,657.6 L1263.1,657.3 L1264.3,657.6 L1265.4,657.6 L1265.7,657.6 L1266.6,716.5 L1267.7,783.9 L1268.9,852.4 L1270.0,929.3 L1270.8,975.2 L1271.2,966.2 L1272.4,930.6 L1273.5,907.5 L1274.7,912.1 L1275.8,895.8 L1277.0,865.6 L1278.1,835.7 L1279.3,815.7 L1280.2,783.9 L1280.4,783.9 L1281.6,783.9 L1282.8,783.9 L1283.9,783.9 L1285.1,778.8 L1286.2,783.9 L1287.4,783.9 L1288.5,770.0 L1288.8,766.9 L1289.7,785.7 L1290.8,808.2 L1292.0,814.7 L1293.2,845.3 L1293.9,859.1 L1294.3,863.8 L1295.5,859.1 L1296.6,859.1 L1297.8,862.4 L1298.9,874.1 L1300.1,902.8 L1300.7,910.3 L1301.2,899.9 L1302.4,886.0 L1303.5,862.9 L1304.7,843.0 L1305.9,832.5 L1305.9,831.7 L1307.0,829.4 L1308.2,830.9 L1309.3,808.4 L1310.5,783.0 L1311.6,765.4 L1312.8,759.8 L1313.9,739.1 L1314.4,732.7 L1315.1,734.4 L1316.3,742.2 L1317.4,744.1 L1318.6,745.2 L1319.7,753.2 L1320.9,753.2 L1321.2,753.2 L1322.0,787.7 L1323.2,842.8 L1324.3,890.1 L1324.6,900.1 L1325.5,912.7 L1326.7,927.1 L1327.8,948.9 L1329.0,933.0 L1330.1,939.6 L1331.3,958.2 L1331.5,961.5 L1332.4,946.6 L1333.6,928.7 L1334.7,894.7 L1335.9,897.4 L1337.1,917.6 L1338.2,913.4 L1339.4,881.9 L1340.5,868.5 L1341.7,845.8 L1341.7,845.4 L1342.8,845.4 L1344.0,845.4 L1345.1,848.6 L1346.3,876.3 L1347.4,889.8 L1348.6,882.8 L1349.8,889.8 L1350.9,889.8 L1352.1,889.8 L1353.2,889.8 L1353.7,889.8 L1354.4,889.8 L1355.5,887.8 L1356.7,845.6 L1357.8,831.3 L1359.0,803.6 L1360.2,793.2 L1361.3,795.2 L1362.5,777.0 L1363.6,761.2 L1363.9,756.6 L1364.8,759.1 L1365.9,771.4 L1367.1,780.2 L1368.2,781.1 L1369.4,779.8 L1370.6,785.3 L1371.7,801.5 L1372.5,807.8 L1372.9,803.4 L1374.0,790.8 L1375.2,749.8 L1376.3,729.2 L1377.5,751.2 L1378.6,766.1 L1379.8,734.5 L1381.0,707.1 L1382.1,707.1 L1383.3,711.1 L1384.4,707.1 L1384.4,707.2 L1385.6,709.3 L1386.7,727.8 L1387.9,762.9 L1389.0,771.3 L1390.2,754.4 L1391.3,759.9 L1392.5,776.1 L1393.0,780.5 L1393.7,771.6 L1394.8,765.2 L1396.0,776.6 L1397.1,751.0 L1398.3,755.6 L1399.4,745.5 L1399.8,739.5 L1400.6,759.0 L1401.7,791.5 L1402.9,819.4 L1404.1,804.0 L1405.2,807.9 L1406.4,856.2 L1407.5,870.8 L1408.3,883.0 L1408.7,879.6 L1409.8,877.6 L1411.0,883.0 L1412.1,883.0 L1413.3,883.0 L1414.5,858.5 L1415.6,852.1 L1416.8,855.6 L1417.9,832.7 L1419.1,828.7 L1420.2,815.7 L1420.3,814.7 L1421.4,825.2 L1422.5,844.5 L1423.7,866.0 L1424.9,869.0 L1426.0,863.5 L1427.2,867.3 L1428.3,887.9 L1429.5,886.9 L1430.6,885.7 L1431.8,941.2 L1432.9,960.3 L1433.9,961.5 L1434.1,957.4 L1435.2,940.8 L1436.4,918.9 L1437.6,887.7 L1438.7,848.6 L1439.9,826.6 L1440.8,811.3 L1441.0,810.2 L1442.2,806.8 L1443.3,810.0 L1444.5,780.5 L1445.6,753.2 L1446.8,753.2 L1448.0,780.4 L1449.1,796.4 L1450.3,787.3 L1451.4,753.2 L1452.6,753.2 L1453.7,753.2 L1454.9,753.2 L1456.0,753.2 L1456.1,753.2 L1457.2,769.3 L1458.4,790.8 L1459.5,795.6 L1460.7,819.0 L1461.3,835.2 L1461.8,826.7 L1463.0,815.1 L1464.1,798.4 L1465.3,814.3 L1466.4,796.5 L1467.6,751.1 L1468.8,726.6 L1469.9,712.7 L1471.1,708.1 L1471.5,702.0 L1472.2,718.9 L1473.4,740.1 L1474.5,761.1 L1475.7,785.4 L1476.8,774.5 L1478.0,748.6 L1479.1,831.2 L1480.3,884.8 L1481.5,886.2 L1481.7,889.8 L1482.6,874.1 L1483.8,842.4 L1484.9,862.8 L1486.1,831.3 L1487.2,814.7 L1488.4,836.3 L1489.5,824.9 L1490.3,814.7 L1490.7,826.3 L1491.9,858.0 L1493.0,911.1 L1494.2,930.3 L1495.3,905.9 L1496.5,956.6 L1497.6,1006.7 L1498.8,1026.2 L1498.8,1026.4 L1499.9,1013.2 L1501.1,994.7 L1502.3,946.1 L1503.4,954.6 L1504.6,974.8 L1505.7,957.9 L1506.9,906.8 L1508.0,868.5 L1509.1,859.1 L1509.2,857.8 L1510.3,845.3 L1511.5,852.2 L1512.6,855.5 L1513.8,832.0 L1515.0,831.7 L1515.1,831.7 L1516.1,824.3 L1517.3,814.7 L1518.4,804.9 L1519.6,791.2 L1520.7,790.2 L1521.9,781.2 L1523.0,766.5 L1523.7,760.0 L1524.2,764.7 L1525.4,776.9 L1526.5,796.2 L1527.7,776.0 L1528.8,806.3 L1530.0,833.1 L1530.5,838.6 L1531.1,848.2 L1532.3,866.6 L1533.4,871.5 L1534.6,888.6 L1535.6,900.1 L1535.8,898.3 L1536.9,880.8 L1538.1,843.1 L1539.2,855.3 L1540.4,842.6 L1541.5,817.7 L1542.4,814.7 L1542.7,819.4 L1543.8,843.5 L1545.0,865.5 L1546.2,890.2 L1547.3,917.5 L1548.5,924.9 L1549.6,944.5 L1550.8,943.1 L1551.0,944.5 L1551.9,931.4 L1553.1,921.6 L1554.2,898.1 L1555.4,895.2 L1556.5,911.6 L1557.7,885.5 L1558.9,847.2 L1560.0,851.0 L1561.2,839.1 L1561.2,838.6 L1562.3,854.1 L1563.5,855.7 L1564.6,855.7 L1565.8,846.3 L1566.9,848.5 L1568.1,852.6 L1569.3,850.7 L1569.8,855.7 L1570.4,855.7 L1571.6,864.9 L1572.7,867.7 L1573.9,870.9 L1575.0,905.0 L1576.2,917.1 L1577.3,917.1 L1578.5,910.4 L1579.7,912.4 L1580.0,917.1 L1580.8,895.3 L1582.0,876.0 L1583.1,851.4 L1584.3,826.3 L1585.1,811.3 L1585.4,814.0 L1586.6,826.7 L1587.7,814.5 L1588.9,811.3 L1590.1,823.4 L1591.2,836.7 L1592.0,842.0 L1592.4,836.1 L1593.5,814.6 L1594.7,817.2 L1595.8,807.4 L1597.0,771.1 L1598.1,748.4 L1599.3,749.8 L1600.4,748.0 L1601.6,733.2 L1602.2,722.5 L1602.8,729.1 L1603.9,725.3 L1605.1,748.4 L1606.2,779.4 L1607.4,772.1 L1608.5,778.1 L1609.0,780.5 L1609.7,768.9 L1610.8,744.0 L1612.0,739.5 L1613.2,741.6 L1614.3,717.7 L1615.5,688.3 L1615.9,688.3 L1616.6,689.4 L1617.8,722.0 L1618.9,764.4 L1620.1,789.6 L1621.2,826.6 L1622.4,856.8 L1623.6,854.8 L1624.7,856.7 L1625.9,861.3 L1626.1,865.9 L1627.0,844.6 L1628.2,837.2 L1629.3,800.2 L1630.5,776.2 L1631.6,765.7 L1632.8,727.2 L1634.0,701.7 L1634.7,688.3 L1635.1,691.0 L1636.3,701.4 L1637.4,709.0 L1638.6,723.0 L1639.7,719.8 L1640.9,734.7 L1641.5,746.4 L1642.0,754.9 L1643.2,771.6 L1644.3,818.4 L1645.5,854.0 L1646.7,875.2 L1647.8,904.8 L1648.3,917.1 L1649.0,904.8 L1650.1,872.9 L1651.3,838.8 L1651.7,828.3 L1652.4,835.4 L1653.6,834.5 L1654.7,862.4 L1655.9,871.5 L1657.1,886.6 L1658.2,923.6 L1659.4,919.1 L1660.5,930.6 L1661.7,953.3 L1662.0,958.1 L1662.8,937.9 L1664.0,911.6 L1665.1,902.1 L1666.3,908.2 L1667.5,891.6 L1668.6,881.3 L1669.8,867.5 L1670.9,847.1 L1672.1,824.7 L1672.2,821.5 L1673.2,840.6 L1674.4,864.9 L1675.5,892.2 L1676.7,916.7 L1677.9,944.5 L1679.0,935.8 L1680.2,914.7 L1681.3,926.5 L1682.5,964.1 L1682.5,964.9 L1683.6,951.0 L1684.8,945.1 L1685.9,923.6 L1687.1,897.0 L1688.2,870.1 L1689.4,854.8 L1690.6,852.7 L1691.7,829.0 L1692.7,821.5 L1692.9,821.5 L1694.0,821.5 L1695.2,821.5 L1696.3,821.5 L1697.5,821.5 L1698.6,821.5 L1699.8,821.5 L1701.0,835.7 L1701.3,838.6 L1702.1,842.5 L1703.3,873.0 L1704.4,901.8 L1705.6,872.9 L1706.7,890.7 L1707.9,909.7 L1708.1,913.7 L1709.0,890.4 L1710.2,869.9 L1711.4,888.1 L1712.5,861.2 L1713.7,847.6 L1714.8,842.5 L1716.0,836.6 L1717.1,842.8 L1718.3,831.9 L1718.3,831.7 L1719.4,849.2 L1720.6,855.6 L1721.7,869.3 L1721.7,868.5 L1722.9,852.6 L1724.1,830.6 L1725.2,828.3 L1726.4,799.3 L1727.5,768.9 L1728.6,760.0 L1728.7,760.2 L1729.8,764.4 L1731.0,760.0 L1732.1,760.0 L1733.3,784.4 L1734.5,804.7 L1735.6,767.9 L1736.8,787.6 L1737.9,831.7 L1739.1,831.7 L1740.2,831.6 L1740.5,831.7 L1741.4,821.4 L1742.5,818.4 L1743.7,815.3 L1744.9,795.3 L1745.7,783.9 L1746.0,783.9 L1747.2,783.9 L1748.3,790.8 L1749.5,783.9 L1750.6,783.9 L1751.8,787.5 L1752.9,790.8 L1754.1,790.8 L1754.2,790.8 L1755.3,814.7 L1756.4,841.2 L1757.6,852.4 L1758.7,844.9 L1759.9,877.5 L1761.0,913.5 L1762.0,920.5 L1762.2,920.5 L1763.3,914.7 L1764.5,886.0 L1765.6,881.1 L1766.8,860.1 L1767.1,852.2 L1768.0,867.7 L1769.1,881.7 L1770.3,882.2 L1771.4,891.7 L1772.6,902.1 L1773.7,903.1 L1774.9,924.3 L1776.0,931.1 L1777.2,914.3 L1778.4,929.7 L1779.5,970.8 L1780.7,985.1 L1780.7,985.4 L1781.8,968.3 L1783.0,956.0 L1784.1,956.4 L1785.3,947.4 L1786.4,911.3 L1787.6,884.6 L1788.8,877.6 L1789.9,859.9 L1791.0,852.2 L1791.1,852.2 L1792.2,855.5 L1793.4,865.6 L1794.5,906.5 L1795.7,929.4 L1796.8,907.8 L1798.0,915.6 L1799.2,950.8 L1800.3,952.6 L1801.2,958.1 L1801.5,953.3 L1802.6,933.5 L1803.8,913.9 L1804.9,907.6 L1806.1,910.1 L1807.2,875.8 L1808.4,845.2 L1809.5,873.3 L1810.7,849.0 L1811.9,817.0 L1813.0,805.8 L1813.2,804.4 L1814.2,804.4 L1815.3,804.4 L1816.5,814.7 L1817.6,814.7 L1818.8,804.4 L1819.9,814.2 L1820.0,814.7 L1821.1,830.7 L1822.3,855.4 L1823.4,886.0 L1824.6,883.1 L1825.7,891.0 L1826.9,893.2 L1828.0,918.0 L1828.6,927.4 L1829.2,921.5 L1830.3,909.5 L1831.5,909.7 L1832.7,872.7 L1833.8,837.0 L1835.0,810.1 L1836.1,768.9 L1837.3,771.9 L1838.4,769.3 L1838.8,763.4 L1839.6,763.8 L1840.7,769.4 L1841.9,789.9 L1843.1,792.1 L1844.2,785.6 L1845.4,763.4 L1846.5,790.3 L1847.7,814.7 L1848.8,814.2 L1849.0,814.7 L1850.0,800.8 L1851.1,782.7 L1852.3,770.4 L1853.4,753.8 L1854.6,715.6 L1855.8,725.9 L1856.9,721.1 L1857.6,715.6 L1858.1,715.9 L1859.2,725.7 L1860.4,740.8 L1861.5,744.9 L1862.7,763.3 L1862.7,763.4 L1863.8,766.9 L1865.0,766.9 L1866.2,766.9 L1867.3,766.9 L1867.8,766.9 L1868.5,766.9 L1869.6,767.9 L1870.8,831.0 L1871.9,859.0 L1873.1,848.9 L1874.2,849.9 L1875.4,873.3 L1876.4,886.4 L1876.6,884.0 L1877.7,860.2 L1878.9,850.7 L1880.0,869.6 L1881.2,859.8 L1882.3,850.1 L1883.5,850.0 L1884.6,794.5 L1885.8,816.1 L1887.0,816.5 L1888.1,786.2 L1889.3,787.9 L1890.0,773.7 L1890.4,779.0 L1891.6,773.7 L1892.7,791.1 L1893.9,817.7 L1895.0,794.0 L1896.2,786.2 L1897.3,806.8 L1898.5,840.6 L1899.7,846.2 L1900.3,848.8 L1900.8,838.5 L1902.0,830.5 L1903.1,826.0 L1904.3,797.9 L1905.4,757.6 L1906.6,710.5 L1907.1,700.3 L1907.7,709.5 L1908.9,742.4 L1910.1,750.7 L1911.2,749.3 L1912.4,747.1 L1913.5,765.3 L1914.7,806.1 L1915.8,823.7 L1917.0,839.4 L1918.1,871.3 L1919.1,893.2 L1919.3,890.8 L1920.5,878.6 L1921.6,856.5 L1922.8,863.9 L1923.9,846.9 L1925.1,822.2 L1926.2,797.2 L1927.4,778.9 L1928.5,781.1 L1929.7,764.4 L1930.8,743.2 L1932.0,726.3 L1932.7,722.5 L1933.2,722.5 L1934.3,725.0 L1935.5,744.2 L1936.6,766.9 L1937.8,744.6 L1938.9,748.3 L1940.1,761.5 L1941.2,766.6 L1941.3,766.9 L1942.4,778.3 L1943.6,769.8 L1944.7,796.3 L1945.9,835.6 L1947.0,816.0 L1948.2,795.0 L1949.3,816.9 L1950.5,839.0 L1951.6,853.6 L1952.8,891.2 L1954.0,925.7 L1955.1,919.6 L1956.3,925.5 L1956.6,927.4 L1957.4,927.4 L1958.6,912.3 L1959.7,862.9 L1960.9,868.3 L1962.0,887.7 L1963.2,896.1 L1964.4,894.9 L1965.5,859.9 L1966.7,838.3 L1967.8,805.3 L1968.6,794.2 L1969.0,795.5 L1970.1,805.2 L1971.3,833.1 L1972.4,845.4 L1973.6,810.7 L1974.7,835.4 L1975.4,845.4 L1975.9,842.1 L1977.1,829.8 L1978.2,824.7 L1979.4,807.3 L1980.5,812.8 L1981.7,798.8 L1982.8,776.0 L1983.9,770.3 L1984.0,771.4 L1985.1,793.4 L1986.3,798.7 L1987.5,815.7 L1988.6,819.0 L1989.8,835.1 L1990.8,838.6 L1990.9,838.2 L1992.1,825.6 L1993.2,815.3 L1994.4,785.5 L1995.5,764.3 L1996.7,760.9 L1996.8,760.0 L1997.9,770.4 L1999.0,793.5 L2000.2,809.4 L2001.3,783.0 L2002.5,792.1 L2003.6,827.2 L2004.8,831.7 L2005.9,831.1 L2007.1,831.7 L2007.1,831.7 L2008.3,816.2 L2009.4,805.9 L2010.6,784.4 L2011.7,767.7 L2012.2,763.4 L2012.9,759.9 L2014.0,760.6 L2015.2,763.3 L2016.3,763.4 L2017.5,763.4 L2018.6,753.5 L2019.8,749.8 L2020.7,749.8 L2021.0,749.8 L2022.1,757.9 L2023.3,779.3 L2024.4,778.0 L2025.6,782.6 L2025.9,783.9 L2026.7,806.3 L2027.9,840.6 L2029.0,888.3 L2030.2,904.3 L2031.4,909.2 L2032.5,918.3 L2033.7,947.8 L2034.4,975.2 L2034.8,963.1 L2036.0,931.0 L2037.1,910.4 L2038.3,918.4 L2039.4,886.8 L2040.6,845.9 L2041.8,828.1 L2042.9,811.3 L2042.9,811.2 L2044.1,794.5 L2045.2,781.1 L2046.4,778.3 L2047.5,762.7 L2048.7,753.8 L2049.8,730.8 L2051.0,710.4 L2051.5,703.7 L2052.2,716.5 L2053.3,737.6 L2054.5,745.9 L2055.6,759.7 L2056.8,754.3 L2057.9,759.3 L2059.1,766.5 L2060.2,785.5 L2061.4,800.9 L2062.5,809.2 L2063.7,839.1 L2064.9,847.5 L2065.1,848.8 L2066.0,828.8 L2067.2,807.4 L2068.3,773.5 L2069.5,733.3 L2070.3,710.5 L2070.6,714.7 L2071.8,752.1 L2072.9,792.7 L2074.1,792.5 L2075.3,801.2 L2076.4,816.2 L2077.6,813.5 L2078.7,806.4 L2079.9,847.3 L2081.0,876.0 L2082.2,886.2 L2082.2,886.4 L2083.3,866.5 L2084.5,847.0 L2085.7,828.4 L2086.8,799.7 L2088.0,767.4 L2089.1,773.9 L2090.3,764.8 L2090.8,761.7 L2091.4,761.7 L2092.6,769.5 L2093.7,773.6 L2094.9,799.9 L2096.1,822.6 L2097.2,832.1 L2098.4,840.2 L2099.5,855.8 L2100.7,882.0 L2101.0,886.4 L2101.8,876.7 L2103.0,854.0 L2104.1,835.2 L2105.3,826.3 L2106.4,805.3 L2107.6,798.2 L2108.8,768.8 L2109.5,753.2 L2109.9,757.6 L2111.1,775.8 L2112.2,784.1 L2113.4,774.2 L2114.5,799.6 L2115.7,832.2 L2116.8,835.5 L2118.0,844.5 L2119.2,856.4 L2120.3,856.3 L2121.5,876.0 L2122.6,889.6 L2123.2,900.1 L2123.8,892.1 L2124.9,878.6 L2126.1,859.8 L2127.2,884.5 L2128.4,880.1 L2129.6,857.6 L2130.7,862.9 L2131.9,860.3 L2133.0,844.6 L2134.2,842.6 L2135.2,842.0 L2135.3,844.8 L2136.5,876.7 L2137.6,896.0 L2138.8,892.4 L2140.0,914.2 L2141.1,932.6 L2142.3,950.5 L2143.4,972.9 L2144.6,1012.0 L2145.7,1024.2 L2146.9,1042.5 L2147.1,1046.9 L2148.0,1020.8 L2149.2,959.1 L2150.3,908.7 L2151.5,888.3 L2152.2,859.1 L2152.7,867.3 L2153.8,864.4 L2155.0,859.1 L2156.1,859.1 L2157.3,859.1 L2158.4,878.7 L2159.6,912.1 L2160.7,913.7 L2160.8,913.7 L2161.9,897.5 L2163.1,875.6 L2164.2,870.0 L2165.4,868.7 L2166.5,830.9 L2167.7,823.0 L2168.8,804.6 L2169.3,797.6 L2170.0,802.1 L2171.1,823.0 L2172.3,866.9 L2173.5,869.3 L2174.6,868.2 L2175.8,887.5 L2176.1,889.8 L2176.9,889.8 L2178.1,889.8 L2179.2,889.8 L2180.4,884.4 L2181.5,872.7 L2182.7,876.0 L2183.8,860.8 L2185.0,864.5 L2186.2,833.5 L2187.3,828.3 L2188.1,828.3 L2188.5,827.1 L2189.6,828.3 L2190.8,810.5 L2191.9,803.5 L2193.1,822.1 L2194.2,803.1 L2195.4,792.8 L2196.6,793.2 L2197.7,776.1 L2198.9,772.6 L2200.0,768.6 L2200.0,769.0 L2201.2,781.8 L2202.3,778.4 L2203.5,812.2 L2204.6,813.8 L2205.8,795.7 L2207.0,834.6 L2208.1,870.6 L2209.3,874.5 L2210.4,890.7 L2211.6,903.4 L2212.0,910.3 L2212.7,906.5 L2213.9,900.4 L2215.0,846.7 L2216.2,824.6 L2217.4,809.1 L2218.5,834.9 L2219.7,822.1 L2220.8,792.4 L2222.0,773.4 L2222.2,770.3 L2223.1,789.9 L2224.3,820.7 L2225.4,803.3 L2226.6,829.8 L2227.7,860.1 L2228.9,875.1 L2230.1,894.2 L2230.8,903.5 L2231.2,898.7 L2232.4,885.1 L2233.5,856.6 L2234.7,817.3 L2235.8,828.9 L2237.0,833.2 L2238.1,808.5 L2239.3,788.9 L2240.5,741.2 L2241.6,736.1 L2242.8,748.2 L2243.7,736.1 L2243.9,739.8 L2245.1,747.5 L2246.2,749.0 L2247.4,759.2 L2248.5,791.3 L2249.7,812.3 L2250.9,833.1 L2252.0,848.3 L2253.2,867.8 L2253.9,883.0 L2254.3,874.5 L2255.5,857.7 L2256.6,837.4 L2257.8,838.0 L2258.9,823.4 L2260.1,781.5 L2261.3,749.9 L2262.4,741.1 L2263.6,719.2 L2264.2,708.8 L2264.7,708.8 L2265.9,708.8 L2267.0,708.8 L2268.2,708.8 L2269.3,712.2 L2269.3,713.7 L2270.5,766.5 L2271.6,798.2 L2272.7,848.8 L2272.8,846.9 L2274.0,845.4 L2275.1,835.1 L2276.3,801.0 L2277.4,802.9 L2277.8,801.0 L2278.6,817.4 L2279.7,846.2 L2280.9,849.1 L2282.0,853.0 L2283.2,874.0 L2284.4,888.2 L2284.6,889.8 L2285.5,889.8 L2286.7,882.5 L2287.8,859.4 L2289.0,838.3 L2289.8,824.9 L2290.1,841.8 L2291.3,899.2 L2291.5,910.3 L2292.4,899.3 L2293.6,899.1 L2294.8,891.7 L2295.9,895.3 L2297.1,894.7 L2298.2,889.8 L2298.3,889.8 L2299.4,861.7 L2300.5,827.2 L2301.7,800.8 L2302.8,777.1 L2303.4,760.0 L2304.0,760.0 L2305.2,756.3 L2306.3,715.5 L2307.5,717.2 L2308.6,688.0 L2309.8,682.4 L2310.9,670.8 L2312.1,653.6 L2313.2,671.4 L2314.4,633.1 L2315.5,618.8 L2316.7,621.8 L2317.1,616.6 L2317.9,622.3 L2319.0,631.6 L2320.2,659.3 L2321.3,659.4 L2322.5,678.1 L2323.6,685.2 L2323.9,688.3 L2324.8,710.0 L2325.9,748.6 L2327.1,758.3 L2328.3,794.7 L2329.4,839.4 L2330.6,876.8 L2330.8,883.0 L2331.7,886.8 L2332.9,883.0 L2334.0,897.7 L2335.2,932.0 L2336.3,931.9 L2337.5,933.9 L2338.7,934.2 L2339.8,934.1 L2341.0,965.1 L2342.1,974.2 L2342.7,978.6 L2343.3,967.2 L2344.4,925.3 L2345.6,878.3 L2346.7,902.6 L2347.9,897.7 L2349.1,865.3 L2349.5,859.1 L2350.2,852.6 L2351.4,843.0 L2352.5,809.8 L2353.7,793.2 L2354.8,810.3 L2356.0,845.2 L2357.1,803.7 L2358.3,777.3 L2359.4,775.2 L2359.8,770.3 L2360.6,789.1 L2361.8,785.1 L2362.9,770.3 L2364.1,820.3 L2365.2,808.6 L2366.4,816.4 L2367.5,850.3 L2368.7,861.1 L2369.8,867.8 L2370.0,869.3 L2371.0,857.4 L2372.2,843.3 L2373.3,832.6 L2374.5,831.5 L2375.6,805.7 L2376.8,771.6 L2377.9,788.2 L2379.1,790.5 L2380.2,764.5 L2380.3,763.4 L2381.4,772.0 L2382.6,768.1 L2383.7,805.8 L2384.9,830.2 L2386.0,803.5 L2387.2,802.6 L2388.3,825.7 L2389.5,831.5 L2390.6,833.8 L2391.8,852.8 L2392.2,855.7 L2393.0,854.3 L2394.1,839.1 L2395.3,798.4 L2396.4,781.8 L2397.6,792.8 L2398.7,802.2 L2399.9,785.9 L2401.0,778.1 L2402.2,769.1 L2403.3,744.6 L2404.2,739.5 L2404.5,739.5 L2405.7,739.5 L2406.8,739.5 L2408.0,739.5 L2409.1,743.8 L2410.3,746.4 L2411.4,746.4 L2412.6,745.6 L2412.7,746.4 L2413.7,761.2 L2414.9,792.8 L2416.1,776.0 L2417.2,778.6 L2418.4,773.9 L2419.5,797.3 L2420.7,832.4 L2421.8,856.6 L2423.0,877.7 L2424.1,878.2 L2425.3,891.1 L2426.5,885.5 L2427.6,873.0 L2428.8,890.3 L2429.9,902.6 L2430.4,910.3 L2431.1,898.1 L2432.2,885.2 L2433.4,880.7 L2434.5,872.6 L2435.7,823.6 L2436.8,811.7 L2438.0,846.1 L2439.2,807.1 L2440.3,780.5 L2441.5,786.2 L2442.3,780.5 L2442.6,784.0 L2443.8,792.4 L2444.9,819.4 L2446.1,838.1 L2447.2,865.8 L2447.4,869.3 L2448.4,865.8 L2449.6,845.9 L2450.7,829.4 L2451.9,855.4 L2453.0,845.3 L2454.2,828.9 L2455.3,830.3 L2456.5,813.8 L2457.6,804.9 L2457.7,804.4 L2458.8,818.1 L2460.0,811.4 L2461.1,818.4 L2462.3,852.0 L2463.4,863.4 L2464.6,849.5 L2465.7,852.0 L2466.9,888.0 L2468.0,892.1 L2469.2,896.9 L2470.4,913.7 L2471.5,909.6 L2472.7,905.7 L2473.8,908.8 L2474.8,913.7 L2475.0,914.4 L2476.1,917.1 L2477.3,913.7 L2478.4,913.7 L2479.6,913.7 L2480.7,917.1 L2481.9,917.1 L2483.1,916.2 L2483.3,917.1 L2484.2,897.1 L2485.4,886.8 L2486.5,886.2 L2487.7,867.3 L2488.8,882.2 L2490.0,861.4 L2491.1,817.7 L2491.8,806.1 L2492.3,816.8 L2493.5,852.5 L2494.6,880.1 L2495.8,859.2 L2496.9,876.8 L2498.1,923.5 L2499.2,972.2 L2500.4,966.5 L2501.5,984.7 L2502.1,995.7 L2502.7,988.8 L2503.9,970.3 L2505.0,951.8 L2506.2,920.5 L2507.3,919.8 L2508.5,897.7 L2509.6,875.7 L2510.8,852.5 L2511.9,813.1 L2513.1,794.2 L2514.0,780.5 L2514.3,778.3 L2515.4,768.8 L2516.6,780.5 L2517.7,763.3 L2518.9,743.0 L2520.0,743.0 L2520.9,743.0 L2521.2,743.0 L2522.3,743.0 L2523.5,743.0 L2524.6,743.0 L2525.8,725.2 L2527.0,704.7 L2528.1,698.6 L2529.3,698.6 L2529.4,698.6 L2530.4,701.6 L2531.6,698.6 L2532.7,698.6 L2533.9,698.6 L2535.0,700.5 L2536.2,722.5 L2537.4,722.5 L2537.9,722.5 L2538.5,748.2 L2539.7,762.5 L2540.8,737.0 L2542.0,787.3 L2543.1,851.7 L2544.3,866.8 L2544.8,879.6 L2545.4,867.5 L2546.6,855.8 L2547.8,848.3 L2548.9,841.7 L2550.1,835.1 L2551.2,824.5 L2551.6,818.1 L2552.4,829.7 L2553.5,844.3 L2554.7,886.8 L2555.8,872.4 L2557.0,840.0 L2558.2,872.3 L2559.3,924.0 L2560.5,927.4 L2561.6,922.4 L2562.8,923.9 L2563.5,927.4 L2563.9,923.5 L2565.1,910.5 L2566.2,895.1 L2567.4,895.1 L2568.5,876.5 L2569.7,870.3 L2570.9,849.1 L2572.0,819.5 L2572.1,818.1 L2573.2,831.1 L2574.3,833.7 L2575.5,844.5 L2576.6,886.4 L2577.8,886.4 L2578.9,886.4 L2578.9,885.5 L2580.1,860.6 L2581.3,839.4 L2582.4,806.5 L2583.6,773.5 L2584.7,743.0 L2585.7,715.6 L2585.9,717.5 L2587.0,732.6 L2588.2,751.6 L2589.3,741.2 L2590.5,786.6 L2591.7,828.3 L2592.8,790.1 L2594.0,818.5 L2595.1,854.7 L2596.3,856.9 L2597.4,870.6 L2597.7,872.7 L2598.6,863.5 L2599.7,816.3 L2600.9,799.0 L2602.1,831.6 L2603.2,834.9 L2604.4,808.3 L2605.5,778.0 L2606.7,782.0 L2607.8,768.9 L2609.0,748.2 L2610.1,741.0 L2611.3,726.8 L2611.4,725.9 L2612.4,743.4 L2613.6,763.4 L2614.8,759.7 L2615.9,782.8 L2617.1,787.0 L2618.2,813.9 L2619.4,852.9 L2620.5,880.6 L2621.7,881.9 L2622.8,873.8 L2624.0,886.4 L2624.0,886.4" fill="none" stroke="#4477AA" stroke-width="12.5" stroke-linejoin="round" stroke-linecap="square"/><rect x="313.5" y="145.4" width="2310.5" height="1405.8999999999999" fill="none" stroke="#000" stroke-width="3"/><rect x="2746.4" y="145.4" width="462.0999999999999" height="1405.8999999999999" fill="none" stroke="#000" stroke-width="3"/><rect x="2150.75" y="173.95" width="444.5" height="267.2" rx="12" ry="12" fill="#fff" fill-opacity="0.8" stroke="#ccc" stroke-opacity="0.8" stroke-width="3.85"/><rect x="2166.1" y="211.15" width="133.7" height="16.5" fill="#4477AA"/><rect x="2166.1" y="294.15" width="133.7" height="16.5" fill="#228833"/><rect x="2166.1" y="377.05" width="133.7" height="16.5" fill="#AA3377"/><g style="font-family:'Liberation Sans',sans-serif;font-weight:bold" fill="#000"><text transform="translate(1249.55,120.00) scale(0.6498,1)" font-size="105">Area per lipid</text><text transform="translate(1319.86,1736.00) scale(0.6355,1)" font-size="105">Time (ns)</text><text transform="translate(2869.90,1735.00) scale(0.5997,1)" font-size="105">Counts</text><text transform="translate(2337.36,239.00) scale(0.6409,1)" font-size="59">Total</text><text transform="translate(2336.87,323.00) scale(0.6446,1)" font-size="59">Upper leaflet</text><text transform="translate(2336.80,406.60) scale(0.6511,1)" font-size="59">Lower leaflet</text><g transform="translate(146,1162.7) rotate(-90)"><text transform="translate(-1.95,0.00) scale(0.6504,1)" font-size="105">Area per lipid (nm</text><text transform="translate(579.11,-37.00) scale(0.6306,1)" font-size="76">2</text><text transform="translate(611.10,0.00) scale(0.5100,1)" font-size="105">)</text></g><text transform="translate(189.90,1573.00) scale(0.6317,1)" font-size="86">0.69</text><text transform="translate(189.90,1291.82) scale(0.6317,1)" font-size="86">0.70</text><text transform="translate(189.90,1010.64) scale(0.6317,1)" font-size="86">0.71</text><text transform="translate(189.90,729.46) scale(0.6317,1)" font-size="86">0.72</text><text transform="translate(189.90,448.28) scale(0.6317,1)" font-size="86">0.73</text><text transform="translate(189.90,167.10) scale(0.6317,1)" font-size="86">0.74</text><text transform="translate(313.50,1628.3) scale(0.6324,1)" font-size="86" text-anchor="middle">0</text><text transform="translate(775.60,1628.3) scale(0.6324,1)" font-size="86" text-anchor="middle">1000</text><text transform="translate(1237.70,1628.3) scale(0.6324,1)" font-size="86" text-anchor="middle">2000</text><text transform="translate(1699.80,1628.3) scale(0.6324,1)" font-size="86" text-anchor="middle">3000</text><text transform="translate(2161.90,1628.3) scale(0.6324,1)" font-size="86" text-anchor="middle">4000</text><text transform="translate(2624.00,1628.3) scale(0.6324,1)" font-size="86" text-anchor="middle">5000</text><text transform="translate(2746.40,1628.3) scale(0.6324,1)" font-size="86" text-anchor="middle">0</text><text transform="translate(3208.50,1628.3) scale(0.6324,1)" font-size="86" text-anchor="middle">200</text></g></svg></body></html>
